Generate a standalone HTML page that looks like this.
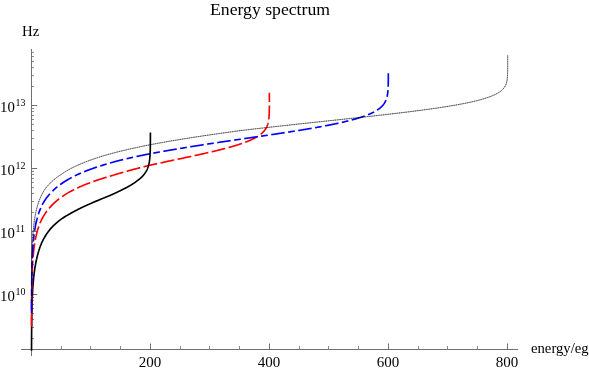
<!DOCTYPE html>
<html><head><meta charset="utf-8"><title>Energy spectrum</title><style>
html,body{margin:0;padding:0;background:#fff;}
body{width:589px;height:371px;position:relative;overflow:hidden;font-family:"Liberation Serif",serif;color:#000;}
.t{position:absolute;white-space:nowrap;line-height:1;will-change:transform;}
.t sup{line-height:0;position:relative;vertical-align:baseline;}
</style></head><body>
<svg width="589" height="371" viewBox="0 0 589 371" style="position:absolute;left:0;top:0">
<rect width="589" height="371" fill="#fff"/>
<g shape-rendering="crispEdges">
<line x1="21" y1="349.5" x2="518" y2="349.5" stroke="#707070" stroke-width="1"/>
<line x1="31.5" y1="49" x2="31.5" y2="356" stroke="#707070" stroke-width="1"/>
</g>
<g>
<line x1="61.5" y1="346" x2="61.5" y2="349" stroke="#8c8c8c" stroke-width="1"/>
<line x1="90.5" y1="346" x2="90.5" y2="349" stroke="#8c8c8c" stroke-width="1"/>
<line x1="120.5" y1="346" x2="120.5" y2="349" stroke="#8c8c8c" stroke-width="1"/>
<line x1="150.5" y1="343.5" x2="150.5" y2="349" stroke="#707070" stroke-width="1"/>
<line x1="180.5" y1="346" x2="180.5" y2="349" stroke="#8c8c8c" stroke-width="1"/>
<line x1="209.5" y1="346" x2="209.5" y2="349" stroke="#8c8c8c" stroke-width="1"/>
<line x1="239.5" y1="346" x2="239.5" y2="349" stroke="#8c8c8c" stroke-width="1"/>
<line x1="269.5" y1="343.5" x2="269.5" y2="349" stroke="#707070" stroke-width="1"/>
<line x1="299.5" y1="346" x2="299.5" y2="349" stroke="#8c8c8c" stroke-width="1"/>
<line x1="328.5" y1="346" x2="328.5" y2="349" stroke="#8c8c8c" stroke-width="1"/>
<line x1="358.5" y1="346" x2="358.5" y2="349" stroke="#8c8c8c" stroke-width="1"/>
<line x1="388.5" y1="343.5" x2="388.5" y2="349" stroke="#707070" stroke-width="1"/>
<line x1="418.5" y1="346" x2="418.5" y2="349" stroke="#8c8c8c" stroke-width="1"/>
<line x1="447.5" y1="346" x2="447.5" y2="349" stroke="#8c8c8c" stroke-width="1"/>
<line x1="477.5" y1="346" x2="477.5" y2="349" stroke="#8c8c8c" stroke-width="1"/>
<line x1="507.5" y1="343.5" x2="507.5" y2="349" stroke="#707070" stroke-width="1"/>
<line x1="32" y1="338.5" x2="34" y2="338.5" stroke="#8c8c8c" stroke-width="1"/>
<line x1="32" y1="327.5" x2="34" y2="327.5" stroke="#8c8c8c" stroke-width="1"/>
<line x1="32" y1="319.5" x2="34" y2="319.5" stroke="#8c8c8c" stroke-width="1"/>
<line x1="32" y1="313.5" x2="34" y2="313.5" stroke="#8c8c8c" stroke-width="1"/>
<line x1="32" y1="308.5" x2="34" y2="308.5" stroke="#8c8c8c" stroke-width="1"/>
<line x1="32" y1="304.5" x2="34" y2="304.5" stroke="#8c8c8c" stroke-width="1"/>
<line x1="32" y1="300.5" x2="34" y2="300.5" stroke="#8c8c8c" stroke-width="1"/>
<line x1="32" y1="297.5" x2="34" y2="297.5" stroke="#8c8c8c" stroke-width="1"/>
<line x1="32" y1="294.5" x2="37.2" y2="294.5" stroke="#707070" stroke-width="1"/>
<line x1="32" y1="275.5" x2="34" y2="275.5" stroke="#8c8c8c" stroke-width="1"/>
<line x1="32" y1="264.5" x2="34" y2="264.5" stroke="#8c8c8c" stroke-width="1"/>
<line x1="32" y1="256.5" x2="34" y2="256.5" stroke="#8c8c8c" stroke-width="1"/>
<line x1="32" y1="250.5" x2="34" y2="250.5" stroke="#8c8c8c" stroke-width="1"/>
<line x1="32" y1="245.5" x2="34" y2="245.5" stroke="#8c8c8c" stroke-width="1"/>
<line x1="32" y1="241.5" x2="34" y2="241.5" stroke="#8c8c8c" stroke-width="1"/>
<line x1="32" y1="237.5" x2="34" y2="237.5" stroke="#8c8c8c" stroke-width="1"/>
<line x1="32" y1="234.5" x2="34" y2="234.5" stroke="#8c8c8c" stroke-width="1"/>
<line x1="32" y1="231.5" x2="37.2" y2="231.5" stroke="#707070" stroke-width="1"/>
<line x1="32" y1="212.5" x2="34" y2="212.5" stroke="#8c8c8c" stroke-width="1"/>
<line x1="32" y1="201.5" x2="34" y2="201.5" stroke="#8c8c8c" stroke-width="1"/>
<line x1="32" y1="193.5" x2="34" y2="193.5" stroke="#8c8c8c" stroke-width="1"/>
<line x1="32" y1="187.5" x2="34" y2="187.5" stroke="#8c8c8c" stroke-width="1"/>
<line x1="32" y1="182.5" x2="34" y2="182.5" stroke="#8c8c8c" stroke-width="1"/>
<line x1="32" y1="178.5" x2="34" y2="178.5" stroke="#8c8c8c" stroke-width="1"/>
<line x1="32" y1="174.5" x2="34" y2="174.5" stroke="#8c8c8c" stroke-width="1"/>
<line x1="32" y1="171.5" x2="34" y2="171.5" stroke="#8c8c8c" stroke-width="1"/>
<line x1="32" y1="168.5" x2="37.2" y2="168.5" stroke="#707070" stroke-width="1"/>
<line x1="32" y1="149.5" x2="34" y2="149.5" stroke="#8c8c8c" stroke-width="1"/>
<line x1="32" y1="138.5" x2="34" y2="138.5" stroke="#8c8c8c" stroke-width="1"/>
<line x1="32" y1="130.5" x2="34" y2="130.5" stroke="#8c8c8c" stroke-width="1"/>
<line x1="32" y1="124.5" x2="34" y2="124.5" stroke="#8c8c8c" stroke-width="1"/>
<line x1="32" y1="119.5" x2="34" y2="119.5" stroke="#8c8c8c" stroke-width="1"/>
<line x1="32" y1="115.5" x2="34" y2="115.5" stroke="#8c8c8c" stroke-width="1"/>
<line x1="32" y1="111.5" x2="34" y2="111.5" stroke="#8c8c8c" stroke-width="1"/>
<line x1="32" y1="108.5" x2="34" y2="108.5" stroke="#8c8c8c" stroke-width="1"/>
<line x1="32" y1="105.5" x2="37.2" y2="105.5" stroke="#707070" stroke-width="1"/>
<line x1="32" y1="86.5" x2="34" y2="86.5" stroke="#8c8c8c" stroke-width="1"/>
<line x1="32" y1="75.5" x2="34" y2="75.5" stroke="#8c8c8c" stroke-width="1"/>
<line x1="32" y1="67.5" x2="34" y2="67.5" stroke="#8c8c8c" stroke-width="1"/>
<line x1="32" y1="61.5" x2="34" y2="61.5" stroke="#8c8c8c" stroke-width="1"/>
<line x1="32" y1="56.5" x2="34" y2="56.5" stroke="#8c8c8c" stroke-width="1"/>
<line x1="32" y1="52.5" x2="34" y2="52.5" stroke="#8c8c8c" stroke-width="1"/>
</g>
<path d="M31.52 350.70 L31.52 350.34 L31.52 350.08 L31.52 349.83 L31.52 349.58 L31.53 349.33 L31.53 349.08 L31.53 348.83 L31.53 348.57 L31.53 348.32 L31.53 348.07 L31.53 347.82 L31.53 347.57 L31.53 347.32 L31.53 347.07 L31.54 346.81 L31.54 346.56 L31.54 346.31 L31.54 346.06 L31.54 345.81 L31.54 345.56 L31.54 345.30 L31.54 345.05 L31.54 344.80 L31.54 344.55 L31.55 344.30 L31.55 344.05 L31.55 343.80 L31.55 343.54 L31.55 343.29 L31.55 343.04 L31.55 342.79 L31.55 342.54 L31.56 342.29 L31.56 342.03 L31.56 341.78 L31.56 341.53 L31.56 341.28 L31.56 341.03 L31.56 340.78 L31.56 340.53 L31.57 340.27 L31.57 340.02 L31.57 339.77 L31.57 339.52 L31.57 339.27 L31.57 339.02 L31.57 338.76 L31.58 338.51 L31.58 338.26 L31.58 338.01 L31.58 337.76 L31.58 337.51 L31.58 337.26 L31.59 337.00 L31.59 336.75 L31.59 336.50 L31.59 336.25 L31.59 336.00 L31.59 335.75 L31.60 335.49 L31.60 335.24 L31.60 334.99 L31.60 334.74 L31.60 334.49 L31.60 334.24 L31.61 333.99 L31.61 333.73 L31.61 333.48 L31.61 333.23 L31.61 332.98 L31.62 332.73 L31.62 332.48 L31.62 332.22 L31.62 331.97 L31.62 331.72 L31.63 331.47 L31.63 331.22 L31.63 330.97 L31.63 330.72 L31.63 330.46 L31.64 330.21 L31.64 329.96 L31.64 329.71 L31.64 329.46 L31.65 329.21 L31.65 328.95 L31.65 328.70 L31.65 328.45 L31.65 328.20 L31.66 327.95 L31.66 327.70 L31.66 327.45 L31.66 327.19 L31.67 326.94 L31.67 326.69 L31.67 326.44 L31.68 326.19 L31.68 325.94 L31.68 325.69 L31.68 325.43 L31.69 325.18 L31.69 324.93 L31.69 324.68 L31.69 324.43 L31.70 324.18 L31.70 323.92 L31.70 323.67 L31.71 323.42 L31.71 323.17 L31.71 322.92 L31.72 322.67 L31.72 322.42 L31.72 322.16 L31.73 321.91 L31.73 321.66 L31.73 321.41 L31.74 321.16 L31.74 320.91 L31.74 320.65 L31.75 320.40 L31.75 320.15 L31.75 319.90 L31.76 319.65 L31.76 319.40 L31.76 319.15 L31.77 318.89 L31.77 318.64 L31.77 318.39 L31.78 318.14 L31.78 317.89 L31.79 317.64 L31.79 317.38 L31.79 317.13 L31.80 316.88 L31.80 316.63 L31.81 316.38 L31.81 316.13 L31.82 315.88 L31.82 315.62 L31.82 315.37 L31.83 315.12 L31.83 314.87 L31.84 314.62 L31.84 314.37 L31.85 314.11 L31.85 313.86 L31.86 313.61 L31.86 313.36 L31.87 313.11 L31.87 312.86 L31.88 312.61 L31.88 312.35 L31.89 312.10 L31.89 311.85 L31.90 311.60 L31.90 311.35 L31.91 311.10 L31.91 310.84 L31.92 310.59 L31.92 310.34 L31.93 310.09 L31.94 309.84 L31.94 309.59 L31.95 309.34 L31.95 309.08 L31.96 308.83 L31.96 308.58 L31.97 308.33 L31.98 308.08 L31.98 307.83 L31.99 307.57 L32.00 307.32 L32.00 307.07 L32.01 306.82 L32.02 306.57 L32.02 306.32 L32.03 306.07 L32.04 305.81 L32.04 305.56 L32.05 305.31 L32.06 305.06 L32.06 304.81 L32.07 304.56 L32.08 304.30 L32.09 304.05 L32.09 303.80 L32.10 303.55 L32.11 303.30 L32.12 303.05 L32.13 302.80 L32.13 302.54 L32.14 302.29 L32.15 302.04 L32.16 301.79 L32.17 301.54 L32.18 301.29 L32.18 301.03 L32.19 300.78 L32.20 300.53 L32.21 300.28 L32.22 300.03 L32.23 299.78 L32.24 299.53 L32.25 299.27 L32.26 299.02 L32.27 298.77 L32.28 298.52 L32.29 298.27 L32.30 298.02 L32.31 297.76 L32.32 297.51 L32.33 297.26 L32.34 297.01 L32.35 296.76 L32.36 296.51 L32.37 296.26 L32.38 296.00 L32.39 295.75 L32.40 295.50 L32.41 295.25 L32.42 295.00 L32.44 294.75 L32.45 294.49 L32.46 294.24 L32.47 293.99 L32.48 293.74 L32.50 293.49 L32.51 293.24 L32.52 292.99 L32.53 292.73 L32.55 292.48 L32.56 292.23 L32.57 291.98 L32.59 291.73 L32.60 291.48 L32.61 291.22 L32.63 290.97 L32.64 290.72 L32.66 290.47 L32.67 290.22 L32.68 289.97 L32.70 289.72 L32.71 289.46 L32.73 289.21 L32.74 288.96 L32.76 288.71 L32.78 288.46 L32.79 288.21 L32.81 287.95 L32.82 287.70 L32.84 287.45 L32.86 287.20 L32.87 286.95 L32.89 286.70 L32.91 286.45 L32.92 286.19 L32.94 285.94 L32.96 285.69 L32.98 285.44 L33.00 285.19 L33.01 284.94 L33.03 284.68 L33.05 284.43 L33.07 284.18 L33.09 283.93 L33.11 283.68 L33.13 283.43 L33.15 283.18 L33.17 282.92 L33.19 282.67 L33.21 282.42 L33.23 282.17 L33.25 281.92 L33.27 281.67 L33.30 281.41 L33.32 281.16 L33.34 280.91 L33.36 280.66 L33.39 280.41 L33.41 280.16 L33.43 279.91 L33.46 279.65 L33.48 279.40 L33.50 279.15 L33.53 278.90 L33.55 278.65 L33.58 278.40 L33.60 278.14 L33.63 277.89 L33.65 277.64 L33.68 277.39 L33.71 277.14 L33.73 276.89 L33.76 276.64 L33.79 276.38 L33.82 276.13 L33.84 275.88 L33.87 275.63 L33.90 275.38 L33.93 275.13 L33.96 274.87 L33.99 274.62 L34.02 274.37 L34.05 274.12 L34.08 273.87 L34.11 273.62 L34.14 273.37 L34.18 273.11 L34.21 272.86 L34.24 272.61 L34.28 272.36 L34.31 272.11 L34.34 271.86 L34.38 271.60 L34.41 271.35 L34.45 271.10 L34.48 270.85 L34.52 270.60 L34.56 270.35 L34.59 270.10 L34.63 269.84 L34.67 269.59 L34.71 269.34 L34.74 269.09 L34.78 268.84 L34.82 268.59 L34.86 268.34 L34.90 268.08 L34.94 267.83 L34.99 267.58 L35.03 267.33 L35.07 267.08 L35.11 266.83 L35.16 266.57 L35.20 266.32 L35.25 266.06 L35.29 265.80 L35.34 265.54 L35.38 265.28 L35.43 265.01 L35.48 264.75 L35.53 264.48 L35.57 264.21 L35.62 263.94 L35.67 263.68 L35.72 263.41 L35.77 263.14 L35.82 262.87 L35.88 262.59 L35.93 262.32 L35.98 262.05 L36.04 261.78 L36.09 261.51 L36.15 261.24 L36.20 260.97 L36.26 260.69" fill="none" stroke="#000" stroke-width="1.65"/>
<path d="M31.50 326.70 L31.50 326.43 L31.50 326.09 L31.50 325.74 L31.50 325.39 L31.50 325.04 L31.50 324.70 L31.50 324.35 L31.50 324.00 L31.50 323.65 L31.51 323.31 L31.51 322.96 L31.51 322.61 L31.51 322.26 L31.51 321.92 L31.51 321.57 L31.51 321.22 L31.51 320.87 L31.51 320.53 L31.51 320.18 L31.52 319.83 L31.52 319.49 L31.52 319.14 L31.52 318.79 L31.52 318.44 L31.52 318.10 L31.52 317.75 L31.52 317.40 L31.53 317.05 L31.53 316.71 L31.53 316.36 L31.53 316.01 L31.53 315.66 L31.53 315.32 L31.53 314.97 L31.54 314.62 L31.54 314.27 L31.54 313.93 L31.54 313.58 L31.54 313.23 L31.54 312.89 L31.55 312.54 L31.55 312.19 L31.55 311.84 L31.55 311.50 L31.55 311.15 L31.55 310.80 L31.56 310.45 L31.56 310.11 L31.56 309.76 L31.56 309.41 L31.56 309.06 L31.57 308.72 L31.57 308.37 L31.57 308.02 L31.57 307.67 L31.57 307.33 L31.58 306.98 L31.58 306.63 L31.58 306.29 L31.58 305.94 L31.59 305.59 L31.59 305.24 L31.59 304.90 L31.59 304.55 L31.60 304.20 L31.60 303.85 L31.60 303.51 L31.60 303.16 L31.61 302.81 L31.61 302.46 L31.61 302.12 L31.62 301.77 L31.62 301.42 L31.62 301.07 L31.62 300.73 L31.63 300.38 L31.63 300.03 L31.63 299.69 L31.64 299.34 L31.64 298.99 L31.64 298.64 L31.65 298.30 L31.65 297.95 L31.66 297.60 L31.66 297.25 L31.66 296.91 L31.67 296.56 L31.67 296.21 L31.67 295.86 L31.68 295.52 L31.68 295.17 L31.69 294.82 L31.69 294.47 L31.69 294.13 L31.70 293.78 L31.70 293.43 L31.71 293.09 L31.71 292.74 L31.72 292.39 L31.72 292.04 L31.73 291.70 L31.73 291.35 L31.74 291.00 L31.74 290.65 L31.75 290.31 L31.75 289.96 L31.76 289.61 L31.76 289.26 L31.77 288.92 L31.78 288.57 L31.78 288.22 L31.79 287.87 L31.79 287.53 L31.80 287.18 L31.81 286.83 L31.81 286.49 L31.82 286.14 L31.82 285.79 L31.83 285.44 L31.84 285.10 L31.85 284.75 L31.85 284.40 L31.86 284.05 L31.87 283.71 L31.87 283.36 L31.88 283.01 L31.89 282.66 L31.90 282.32 L31.91 281.97 L31.91 281.62 L31.92 281.28 L31.93 280.93 L31.94 280.58 L31.95 280.23 L31.96 279.89 L31.97 279.54 L31.97 279.19 L31.98 278.84 L31.99 278.50 L32.00 278.15 L32.01 277.80 L32.02 277.45 L32.03 277.11 L32.04 276.76 L32.05 276.41 L32.07 276.06 L32.08 275.72 L32.09 275.37 L32.10 275.02 L32.11 274.68 L32.12 274.33 L32.13 273.98 L32.15 273.63 L32.16 273.29 L32.17 272.94 L32.19 272.59 L32.20 272.24 L32.21 271.90 L32.23 271.55 L32.24 271.20 L32.25 270.85 L32.27 270.51 L32.28 270.16 L32.30 269.81 L32.31 269.46 L32.33 269.12 L32.34 268.77 L32.36 268.42 L32.38 268.08 L32.39 267.73 L32.41 267.38 L32.43 267.03 L32.44 266.69 L32.46 266.34 L32.48 265.99 L32.50 265.64 L32.52 265.30 L32.54 264.95 L32.56 264.60 L32.58 264.25 L32.60 263.91 L32.62 263.56 L32.64 263.21 L32.66 262.86 L32.68 262.52 L32.70 262.17 L32.72 261.82 L32.75 261.48 L32.77 261.13 L32.79 260.78 L32.82 260.43 L32.84 260.09 L32.87 259.74 L32.89 259.39 L32.92 259.04 L32.94 258.70 L32.97 258.35 L33.00 258.00 L33.03 257.65 L33.05 257.31 L33.08 256.96 L33.11 256.61 L33.14 256.26 L33.17 255.92 L33.20 255.57 L33.23 255.22 L33.27 254.88 L33.30 254.53 L33.33 254.18 L33.37 253.83 L33.40 253.49 L33.43 253.14 L33.47 252.79 L33.51 252.44 L33.54 252.10 L33.58 251.75 L33.62 251.40 L33.66 251.05 L33.70 250.71 L33.74 250.36 L33.78 250.01 L33.82 249.66 L33.86 249.32 L33.91 248.97 L33.95 248.62 L33.99 248.27 L34.04 247.92 L34.09 247.57 L34.13 247.21 L34.18 246.86 L34.23 246.51 L34.28 246.15 L34.33 245.79 L34.38 245.44 L34.43 245.08 L34.49 244.72 L34.54 244.36 L34.60 244.00 L34.65 243.64 L34.71 243.28 L34.77 242.92 L34.83 242.56 L34.89 242.20 L34.95 241.83 L35.01 241.47 L35.08 241.11 L35.14 240.75 L35.21 240.38 L35.28 240.02 L35.34 239.66 L35.41 239.30 L35.48 238.93 L35.56 238.57 L35.63 238.20 L35.70 237.84 L35.78 237.47 L35.86 237.11 L35.94 236.74 L35.99 236.50 L36.04 236.25 L36.10 236.01 L36.15 235.76 L36.21 235.52 L36.27 235.27 L36.32 235.03 L36.38 234.78 L36.44 234.54 L36.50 234.29 L36.56 234.05 L36.62 233.80 L36.68 233.55 L36.74 233.31 L36.81 233.06 L36.87 232.82 L36.94 232.57 L37.00 232.32 L37.07 232.08 L37.13 231.83 L37.20 231.58 L37.27 231.34 L37.34 231.09 L37.41 230.85 L37.48 230.60 L37.55 230.35 L37.62 230.10 L37.70 229.86 L37.77 229.61 L37.85 229.36 L37.92 229.12 L38.00 228.87 L38.08 228.62 L38.16 228.38 L38.24 228.13 L38.32 227.88 L38.40 227.63 L38.48 227.39 L38.56 227.14 L38.65 226.89 L38.73 226.65 L38.82 226.40 L38.91 226.15 L39.00 225.90 L39.09 225.66 L39.18 225.41 L39.27 225.16 L39.36 224.92 L39.46 224.67 L39.55 224.42 L39.65 224.17 L39.75 223.93 L39.84 223.68 L39.94 223.43 L40.05 223.19 L40.15 222.94 L40.25 222.69 L40.36 222.45 L40.46 222.20 L40.57 221.95 L40.68 221.71 L40.79 221.46 L40.90 221.21 L41.01 220.97 L41.12 220.72 L41.24 220.47 L41.35 220.23 L41.47 219.98 L41.59 219.73 L41.71 219.49 L41.83 219.24 L41.96 219.00 L42.08 218.75 L42.21 218.51 L42.34 218.26 L42.46 218.01 L42.60 217.77 L42.73 217.52 L42.86 217.28 L43.00 217.03 L43.13 216.79 L43.27 216.54 L43.41 216.30 L43.56 216.05 L43.70 215.81 L43.84 215.56 L43.99 215.32 L44.14 215.07 L44.29 214.83 L44.44 214.59 L44.60 214.34 L44.75 214.10 L44.91 213.85 L45.07 213.61 L45.23 213.37 L45.40 213.12 L45.56 212.88 L45.73 212.64 L45.90 212.40 L46.07 212.15 L46.24 211.91 L46.42 211.67 L46.60 211.43 L46.78 211.18 L46.96 210.94 L47.14 210.70 L47.33 210.46 L47.52 210.22 L47.71 209.97 L47.90 209.73 L48.10 209.49 L48.29 209.25 L48.49 209.01 L48.69 208.77 L48.90 208.53 L49.11 208.29 L49.32 208.05 L49.53 207.81 L49.74 207.57 L49.96 207.33 L50.18 207.08 L50.40 206.83 L50.62 206.58 L50.85 206.33 L51.08 206.08 L51.31 205.83 L51.55 205.58 L51.79 205.33 L52.03 205.08 L52.27 204.83 L52.52 204.58 L52.76 204.33 L53.02 204.08 L53.27 203.83 L53.53 203.58 L53.79 203.33 L54.06 203.08 L54.32 202.83 L54.59 202.58 L54.87 202.33 L55.14 202.08 L55.42 201.83 L55.71 201.58 L55.99 201.34 L56.28 201.09 L56.58 200.84 L56.87 200.59 L57.17 200.34 L57.48 200.09 L57.78 199.84 L58.09 199.59 L58.41 199.34 L58.73 199.09 L59.05 198.85 L59.37 198.60 L59.70 198.35 L60.03 198.10 L60.37 197.85 L60.71 197.60 L61.06 197.35 L61.40 197.11 L61.76 196.86 L62.11 196.61 L62.47 196.36 L62.84 196.11 L63.21 195.86 L63.58 195.62 L63.96 195.37 L64.34 195.12 L64.73 194.87 L65.12 194.62 L65.51 194.38 L65.91 194.13 L66.31 193.88 L66.72 193.63 L67.14 193.38 L67.55 193.14 L67.98 192.89 L68.40 192.64 L68.84 192.39 L69.05 192.27 L69.27 192.14 L69.49 192.02 L69.72 191.90 L69.94 191.77 L70.16 191.65 L70.39 191.53 L70.62 191.40 L70.84 191.28 L71.07 191.15 L71.30 191.03 L71.53 190.91 L71.77 190.78 L72.00 190.66 L72.24 190.54 L72.48 190.41 L72.71 190.29 L72.95 190.16 L73.19 190.04 L73.44 189.92 L73.68 189.79 L73.93 189.67 L74.17 189.55 L74.42 189.42 L74.67 189.30 L74.92 189.17 L75.17 189.05 L75.42 188.93 L75.68 188.80 L75.94 188.68 L76.19 188.56 L76.45 188.43 L76.71 188.31 L76.97 188.18 L77.24 188.06 L77.50 187.94 L77.77 187.81 L78.04 187.69 L78.30 187.57 L78.58 187.44 L78.85 187.32 L79.12 187.19 L79.40 187.07 L79.67 186.95 L79.95 186.82 L80.23 186.70 L80.51 186.58 L80.79 186.45 L81.08 186.33 L81.36 186.20 L81.65 186.08 L81.94 185.96 L82.23 185.83 L82.52 185.71 L82.81 185.59 L83.11 185.46 L83.41 185.34 L83.70 185.21 L84.00 185.09 L84.30 184.97 L84.61 184.84 L84.91 184.72 L85.22 184.60 L85.53 184.47 L85.83 184.35 L86.15 184.22 L86.46 184.10 L86.77 183.98 L87.09 183.85 L87.41 183.73 L87.73 183.60 L88.05 183.48 L88.37 183.36 L88.69 183.23 L89.02 183.11 L89.35 182.99 L89.68 182.86 L90.01 182.74 L90.34 182.61 L90.68 182.49 L91.01 182.37 L91.35 182.24 L91.69 182.12 L92.03 181.99 L92.38 181.87 L92.72 181.75 L93.07 181.62 L93.42 181.50 L93.77 181.37 L94.12 181.25 L94.47 181.13 L94.83 181.00 L95.19 180.88 L95.55 180.75 L95.91 180.63 L96.27 180.50 L96.63 180.38 L97.00 180.26 L97.37 180.13 L97.74 180.01 L98.11 179.88 L98.49 179.76 L98.86 179.63 L99.24 179.51 L99.62 179.39 L100.00 179.26 L100.38 179.14 L100.77 179.01 L101.16 178.89 L101.55 178.76 L101.94 178.64 L102.33 178.52 L102.72 178.39 L103.12 178.27 L103.52 178.14 L103.92 178.02 L104.32 177.89 L104.73 177.77 L105.13 177.64 L105.54 177.52 L105.95 177.39 L106.36 177.27 L106.78 177.14 L107.19 177.02 L107.61 176.90 L108.03 176.77 L108.45 176.65 L108.88 176.52 L109.30 176.40 L109.73 176.27 L110.16 176.14 L110.59 176.01 L111.02 175.87 L111.46 175.74 L111.90 175.60 L112.34 175.46 L112.78 175.33 L113.22 175.19 L113.67 175.06 L114.11 174.92 L114.56 174.78 L115.02 174.65 L115.47 174.51 L115.92 174.38 L116.38 174.24 L116.84 174.10 L117.30 173.97 L117.77 173.83 L118.23 173.69 L118.70 173.56 L119.17 173.42 L119.64 173.28 L120.11 173.14 L120.59 173.01 L121.06 172.87 L121.54 172.73 L122.02 172.60 L122.51 172.46 L122.99 172.32 L123.48 172.18 L123.97 172.04 L124.46 171.91 L124.95 171.77 L125.45 171.63 L125.94 171.49 L126.44 171.35 L126.94 171.22 L127.45 171.08 L127.95 170.94 L128.46 170.80 L128.97 170.66 L129.48 170.52 L129.99 170.38 L130.50 170.25 L131.02 170.11 L131.54 169.97 L132.06 169.83 L132.58 169.69 L133.11 169.55 L133.63 169.41 L134.16 169.27 L134.69 169.13 L135.22 168.99 L135.75 168.85 L136.29 168.71 L136.83 168.57 L137.36 168.43 L137.91 168.29 L138.45 168.15 L138.99 168.01 L139.54 167.87 L140.09 167.73 L140.64 167.59 L141.19 167.45 L141.74 167.30 L142.30 167.16 L142.85 167.02 L143.41 166.88 L143.97 166.74 L144.53 166.60 L145.10 166.46 L145.66 166.32 L146.23 166.17 L146.80 166.03 L147.37 165.89 L147.94 165.75 L148.51 165.61 L149.09 165.46 L149.67 165.32 L150.24 165.18 L150.82 165.05 L151.41 164.92 L151.99 164.79 L152.57 164.66 L153.16 164.53 L153.75 164.40 L154.33 164.27 L154.92 164.14 L155.52 164.01 L156.11 163.88 L156.70 163.75 L157.30 163.62 L157.90 163.49 L158.49 163.36 L159.09 163.23 L159.70 163.10 L160.30 162.97 L160.90 162.84 L161.51 162.71 L162.11 162.58 L162.72 162.45 L163.33 162.32 L163.93 162.18 L164.55 162.05 L165.16 161.92 L165.77 161.79 L166.38 161.66 L167.00 161.53 L167.61 161.40 L168.23 161.26 L168.84 161.13 L169.46 161.00 L170.08 160.87 L170.70 160.74 L171.32 160.60 L171.94 160.47 L172.56 160.34 L173.19 160.21 L173.81 160.07 L174.43 159.94 L175.06 159.81 L175.68 159.68 L176.31 159.54 L176.94 159.41 L177.56 159.28 L178.19 159.14 L178.82 159.01 L179.44 158.88 L180.07 158.74 L180.70 158.61 L181.33 158.48 L181.96 158.34 L182.59 158.21 L183.22 158.08 L183.85 157.94 L184.48 157.81 L185.11 157.67 L185.74 157.54 L186.37 157.40 L187.00 157.27 L187.63 157.13 L188.26 157.00 L188.88 156.87 L189.51 156.73 L190.14 156.60 L190.77 156.46 L191.40 156.32 L192.03 156.19 L192.66 156.05 L193.28 155.92 L193.91 155.78 L194.54 155.65 L195.16 155.51 L195.79 155.37 L196.41 155.24 L197.03 155.10 L197.66 154.97 L198.28 154.83 L198.90 154.69 L199.52 154.56 L200.14 154.42 L200.76 154.28 L201.38 154.15 L201.99 154.01 L202.61 153.87 L203.22 153.73 L203.84 153.60 L204.45 153.46 L205.06 153.32 L205.67 153.18 L206.28 153.04 L206.89 152.91 L207.49 152.77 L208.10 152.63 L208.70 152.49 L209.30 152.35 L209.90 152.21 L210.50 152.07 L211.09 151.94 L211.69 151.80 L212.28 151.66 L212.87 151.52 L213.46 151.38 L214.05 151.24 L214.63 151.10 L215.22 150.96 L215.80 150.82 L216.38 150.68 L216.95 150.54 L217.53 150.40 L218.10 150.26 L218.67 150.12 L219.24 149.98 L219.81 149.83 L220.37 149.69 L220.93 149.55 L221.49 149.41 L222.05 149.27 L222.60 149.13 L223.15 148.99 L223.70 148.84 L224.25 148.70 L224.79 148.56 L225.33 148.42 L225.87 148.27 L226.40 148.13 L226.94 147.99 L227.47 147.85 L227.99 147.70 L228.52 147.56 L229.04 147.42 L229.55 147.27 L230.07 147.13 L230.58 146.98 L231.09 146.84 L231.59 146.70 L232.10 146.55 L232.60 146.41 L233.09 146.26 L233.58 146.12 L234.07 145.97 L234.56 145.83 L235.04 145.68 L235.52 145.54 L236.00 145.39 L236.47 145.25 L236.94 145.10 L237.40 144.95 L237.87 144.81 L238.33 144.66 L238.78 144.51 L239.23 144.37 L239.68 144.22 L240.12 144.07 L240.56 143.93 L241.00 143.78 L241.43 143.63 L241.86 143.48 L242.29 143.33 L242.71 143.19 L243.13 143.04 L243.54 142.89 L243.96 142.74 L244.36 142.59 L244.77 142.44 L245.16 142.29 L245.56 142.14 L245.95 142.00 L246.34 141.85 L246.72 141.70 L247.10 141.55 L247.48 141.40 L247.85 141.24 L248.22 141.09 L248.59 140.94 L248.95 140.79 L249.30 140.64 L249.66 140.49 L250.00 140.34 L250.35 140.19 L250.69 140.03 L251.03 139.88 L251.36 139.73 L251.69 139.58 L252.02 139.42 L252.34 139.27 L252.66 139.12 L252.97 138.97 L253.28 138.81 L253.59 138.66 L253.89 138.50 L254.19 138.35 L254.48 138.20 L254.77 138.04 L255.06 137.89 L255.34 137.73 L255.62 137.58 L255.90 137.42 L256.17 137.27 L256.44 137.11 L256.70 136.95 L256.96 136.80 L257.22 136.64 L257.47 136.49 L257.72 136.33 L257.97 136.17 L258.21 136.01 L258.45 135.86 L258.68 135.70 L258.91 135.54 L259.14 135.38 L259.37 135.23 L259.59 135.07 L259.80 134.91 L260.02 134.75 L260.23 134.59 L260.43 134.43 L260.64 134.27 L260.84 134.11 L261.03 133.95 L261.23 133.79 L261.60 133.47 L261.97 133.15 L262.32 132.83 L262.66 132.50 L262.98 132.18 L263.30 131.85 L263.60 131.52 L263.89 131.20 L264.17 130.87 L264.44 130.54 L264.70 130.21 L264.94 129.88 L265.18 129.54 L265.41 129.21 L265.63 128.88 L265.83 128.54 L266.03 128.20 L266.22 127.87 L266.40 127.53 L266.58 127.19 L266.74 126.85 L266.90 126.51 L267.05 126.16 L267.19 125.82 L267.32 125.48 L267.45 125.13 L267.57 124.78 L267.69 124.43 L267.80 124.08 L267.90 123.73 L268.00 123.38 L268.09 123.03 L268.17 122.68 L268.26 122.32 L268.33 121.97 L268.41 121.61 L268.47 121.25 L268.54 120.89 L268.60 120.53 L268.66 120.17 L268.71 119.80 L268.76 119.44 L268.81 119.07 L268.85 118.71 L268.89 118.34 L268.93 117.97 L268.96 117.60 L269.00 117.23 L269.03 116.85 L269.05 116.48 L269.08 116.10 L269.10 115.73 L269.13 115.35 L269.15 114.97 L269.17 114.59 L269.19 114.21 L269.20 113.82 L269.22 113.44 L269.23 113.05 L269.24 112.66 L269.26 112.27 L269.27 111.88 L269.28 111.49 L269.29 111.10 L269.29 110.70 L269.30 110.31 L269.31 109.91 L269.31 109.51 L269.32 109.11 L269.33 108.71 L269.33 108.30 L269.33 107.90 L269.34 107.49 L269.34 107.08 L269.34 106.68 L269.35 106.26 L269.35 105.85 L269.35 105.44 L269.35 105.02 L269.36 104.61 L269.36 104.19 L269.36 103.77 L269.36 103.35 L269.36 102.92 L269.36 102.50 L269.36 102.07 L269.36 101.64 L269.37 101.21 L269.37 100.78 L269.37 100.35 L269.37 99.91 L269.37 99.48 L269.37 99.04 L269.37 98.60 L269.37 98.16 L269.37 97.71 L269.37 97.27 L269.37 96.82 L269.37 96.37 L269.37 95.92 L269.37 95.47 L269.37 95.02 L269.37 94.56 L269.37 94.11 L269.37 93.65 L269.37 93.19 L269.37 92.73 L269.37 92.70" fill="none" stroke="#f00" stroke-width="1.65" stroke-dasharray="14 3.45" stroke-dashoffset="0.3"/>
<path d="M31.52 312.70 L31.52 312.36 L31.52 311.99 L31.52 311.62 L31.52 311.24 L31.52 310.87 L31.52 310.49 L31.52 310.12 L31.53 309.74 L31.53 309.37 L31.53 309.00 L31.53 308.62 L31.53 308.25 L31.53 307.87 L31.53 307.50 L31.54 307.13 L31.54 306.75 L31.54 306.38 L31.54 306.00 L31.54 305.63 L31.54 305.26 L31.54 304.88 L31.55 304.51 L31.55 304.13 L31.55 303.76 L31.55 303.39 L31.55 303.01 L31.56 302.64 L31.56 302.26 L31.56 301.89 L31.56 301.52 L31.56 301.14 L31.57 300.77 L31.57 300.39 L31.57 300.02 L31.57 299.65 L31.57 299.27 L31.58 298.90 L31.58 298.52 L31.58 298.15 L31.58 297.77 L31.59 297.40 L31.59 297.03 L31.59 296.65 L31.59 296.28 L31.60 295.90 L31.60 295.53 L31.60 295.16 L31.60 294.78 L31.61 294.41 L31.61 294.03 L31.61 293.66 L31.61 293.29 L31.62 292.91 L31.62 292.54 L31.62 292.16 L31.63 291.79 L31.63 291.42 L31.63 291.04 L31.64 290.67 L31.64 290.29 L31.64 289.92 L31.65 289.55 L31.65 289.17 L31.65 288.80 L31.66 288.42 L31.66 288.05 L31.66 287.68 L31.67 287.30 L31.67 286.93 L31.68 286.55 L31.68 286.18 L31.68 285.80 L31.69 285.43 L31.69 285.06 L31.70 284.68 L31.70 284.31 L31.71 283.93 L31.71 283.56 L31.72 283.19 L31.72 282.81 L31.72 282.44 L31.73 282.06 L31.73 281.69 L31.74 281.32 L31.75 280.94 L31.75 280.57 L31.76 280.19 L31.76 279.82 L31.77 279.45 L31.77 279.07 L31.78 278.70 L31.78 278.32 L31.79 277.95 L31.80 277.58 L31.80 277.20 L31.81 276.83 L31.82 276.45 L31.82 276.08 L31.83 275.71 L31.83 275.33 L31.84 274.96 L31.85 274.58 L31.86 274.21 L31.86 273.84 L31.87 273.46 L31.88 273.09 L31.89 272.71 L31.89 272.34 L31.90 271.96 L31.91 271.59 L31.92 271.22 L31.93 270.84 L31.93 270.47 L31.94 270.09 L31.95 269.72 L31.96 269.35 L31.97 268.97 L31.98 268.60 L31.99 268.22 L32.00 267.85 L32.01 267.48 L32.02 267.10 L32.03 266.73 L32.04 266.35 L32.05 265.98 L32.06 265.61 L32.07 265.23 L32.08 264.86 L32.09 264.48 L32.11 264.11 L32.12 263.74 L32.13 263.36 L32.14 262.99 L32.15 262.61 L32.17 262.24 L32.18 261.87 L32.19 261.49 L32.21 261.12 L32.22 260.74 L32.23 260.37 L32.25 259.99 L32.26 259.62 L32.28 259.25 L32.29 258.87 L32.31 258.50 L32.32 258.12 L32.34 257.75 L32.35 257.38 L32.37 257.00 L32.38 256.63 L32.40 256.25 L32.42 255.88 L32.44 255.51 L32.45 255.13 L32.47 254.76 L32.49 254.38 L32.51 254.01 L32.53 253.64 L32.55 253.26 L32.57 252.89 L32.59 252.51 L32.61 252.14 L32.63 251.77 L32.65 251.39 L32.67 251.02 L32.69 250.64 L32.71 250.27 L32.74 249.90 L32.76 249.52 L32.78 249.15 L32.81 248.77 L32.83 248.40 L32.86 248.03 L32.88 247.65 L32.91 247.28 L32.93 246.90 L32.96 246.53 L32.98 246.28 L32.99 246.03 L33.01 245.78 L33.03 245.53 L33.05 245.28 L33.07 245.03 L33.09 244.78 L33.11 244.53 L33.13 244.28 L33.15 244.04 L33.17 243.79 L33.19 243.54 L33.21 243.29 L33.23 243.04 L33.25 242.79 L33.27 242.54 L33.29 242.29 L33.32 242.04 L33.34 241.79 L33.36 241.54 L33.38 241.29 L33.41 241.04 L33.43 240.79 L33.45 240.54 L33.48 240.29 L33.50 240.05 L33.53 239.80 L33.55 239.55 L33.58 239.30 L33.60 239.05 L33.63 238.80 L33.65 238.55 L33.68 238.30 L33.70 238.05 L33.73 237.80 L33.76 237.55 L33.79 237.30 L33.81 237.05 L33.84 236.80 L33.87 236.55 L33.90 236.30 L33.93 236.06 L33.96 235.81 L33.99 235.56 L34.02 235.31 L34.05 235.06 L34.08 234.81 L34.11 234.56 L34.14 234.31 L34.17 234.06 L34.21 233.81 L34.24 233.56 L34.27 233.31 L34.31 233.06 L34.34 232.81 L34.37 232.56 L34.41 232.31 L34.44 232.07 L34.48 231.82 L34.52 231.57 L34.55 231.32 L34.59 231.07 L34.63 230.82 L34.66 230.57 L34.70 230.32 L34.74 230.07 L34.78 229.82 L34.82 229.57 L34.86 229.32 L34.90 229.07 L34.94 228.82 L34.98 228.57 L35.03 228.32 L35.07 228.08 L35.11 227.83 L35.15 227.58 L35.20 227.33 L35.24 227.08 L35.29 226.83 L35.33 226.57 L35.38 226.32 L35.43 226.07 L35.47 225.82 L35.52 225.57 L35.57 225.32 L35.62 225.07 L35.67 224.82 L35.72 224.57 L35.77 224.31 L35.82 224.06 L35.87 223.81 L35.93 223.56 L35.98 223.31 L36.03 223.05 L36.09 222.80 L36.14 222.55 L36.20 222.30 L36.26 222.05 L36.31 221.79 L36.37 221.54 L36.43 221.29 L36.49 221.03 L36.55 220.78 L36.61 220.53 L36.67 220.27 L36.73 220.02 L36.80 219.77 L36.86 219.52 L36.92 219.26 L36.99 219.01 L37.05 218.76 L37.12 218.50 L37.19 218.25 L37.26 217.99 L37.33 217.74 L37.40 217.49 L37.47 217.23 L37.54 216.98 L37.61 216.73 L37.68 216.47 L37.76 216.22 L37.83 215.96 L37.91 215.71 L37.98 215.46 L38.06 215.20 L38.14 214.95 L38.22 214.69 L38.30 214.44 L38.38 214.19 L38.47 213.93 L38.55 213.68 L38.63 213.42 L38.72 213.17 L38.80 212.92 L38.89 212.66 L38.98 212.41 L39.07 212.16 L39.16 211.90 L39.25 211.65 L39.35 211.39 L39.44 211.14 L39.53 210.89 L39.63 210.63 L39.73 210.38 L39.83 210.12 L39.93 209.87 L40.03 209.62 L40.13 209.37 L40.23 209.12 L40.34 208.87 L40.44 208.62 L40.55 208.38 L40.66 208.13 L40.77 207.88 L40.88 207.63 L40.99 207.38 L41.10 207.14 L41.22 206.89 L41.33 206.64 L41.45 206.39 L41.57 206.15 L41.69 205.90 L41.81 205.65 L41.93 205.41 L42.06 205.16 L42.19 204.91 L42.31 204.67 L42.44 204.42 L42.57 204.17 L42.70 203.93 L42.84 203.68 L42.97 203.44 L43.11 203.19 L43.25 202.95 L43.39 202.70 L43.53 202.46 L43.68 202.21 L43.82 201.97 L43.97 201.72 L44.12 201.48 L44.27 201.23 L44.42 200.99 L44.57 200.75 L44.73 200.50 L44.89 200.26 L45.05 200.01 L45.21 199.77 L45.37 199.53 L45.54 199.29 L45.70 199.04 L45.87 198.80 L46.05 198.56 L46.22 198.32 L46.39 198.07 L46.57 197.83 L46.75 197.59 L46.93 197.35 L47.12 197.11 L47.30 196.87 L47.49 196.63 L47.68 196.39 L47.87 196.15 L48.07 195.90 L48.27 195.67 L48.47 195.43 L48.67 195.19 L48.87 194.95 L49.08 194.71 L49.29 194.47 L49.50 194.23 L49.72 193.99 L49.93 193.75 L50.15 193.51 L50.37 193.26 L50.60 193.02 L50.83 192.77 L51.06 192.52 L51.29 192.28 L51.52 192.03 L51.76 191.78 L52.00 191.54 L52.25 191.29 L52.49 191.05 L52.74 190.80 L53.00 190.56 L53.25 190.31 L53.51 190.07 L53.77 189.82 L54.04 189.58 L54.31 189.33 L54.58 189.09 L54.85 188.84 L55.13 188.60 L55.41 188.35 L55.69 188.11 L55.98 187.87 L56.27 187.62 L56.57 187.38 L56.86 187.13 L57.17 186.89 L57.47 186.65 L57.78 186.40 L58.09 186.16 L58.41 185.92 L58.73 185.67 L59.05 185.43 L59.38 185.19 L59.71 184.95 L60.04 184.70 L60.38 184.45 L60.72 184.20 L61.07 183.96 L61.42 183.71 L61.77 183.46 L62.13 183.21 L62.50 182.96 L62.86 182.71 L63.23 182.46 L63.61 182.21 L63.99 181.96 L64.38 181.71 L64.77 181.47 L65.16 181.22 L65.56 180.97 L65.96 180.72 L66.37 180.47 L66.78 180.22 L67.20 179.97 L67.62 179.72 L68.05 179.48 L68.48 179.23 L68.70 179.10 L68.92 178.98 L69.14 178.85 L69.36 178.73 L69.58 178.61 L69.81 178.48 L70.03 178.36 L70.26 178.23 L70.49 178.11 L70.72 177.98 L70.95 177.86 L71.18 177.73 L71.42 177.61 L71.65 177.49 L71.89 177.36 L72.12 177.24 L72.36 177.11 L72.60 176.99 L72.85 176.86 L73.09 176.74 L73.33 176.61 L73.58 176.49 L73.83 176.37 L74.08 176.24 L74.33 176.12 L74.58 175.99 L74.83 175.87 L75.09 175.74 L75.34 175.62 L75.60 175.49 L75.86 175.37 L76.12 175.25 L76.38 175.12 L76.64 175.00 L76.91 174.87 L77.18 174.75 L77.44 174.62 L77.71 174.50 L77.99 174.37 L78.26 174.25 L78.53 174.12 L78.81 174.00 L79.09 173.88 L79.36 173.75 L79.65 173.63 L79.93 173.50 L80.21 173.38 L80.50 173.25 L80.78 173.13 L81.07 173.00 L81.36 172.88 L81.66 172.75 L81.95 172.63 L82.24 172.50 L82.54 172.38 L82.84 172.25 L83.14 172.13 L83.44 172.00 L83.75 171.88 L84.05 171.76 L84.36 171.63 L84.67 171.51 L84.98 171.38 L85.29 171.26 L85.61 171.13 L85.92 171.01 L86.24 170.88 L86.56 170.76 L86.88 170.63 L87.20 170.51 L87.53 170.38 L87.86 170.26 L88.19 170.13 L88.52 170.00 L88.85 169.88 L89.18 169.75 L89.52 169.63 L89.86 169.50 L90.20 169.38 L90.54 169.25 L90.88 169.13 L91.23 169.00 L91.58 168.88 L91.93 168.75 L92.28 168.63 L92.63 168.50 L92.99 168.38 L93.35 168.25 L93.70 168.12 L94.07 168.00 L94.43 167.87 L94.80 167.75 L95.16 167.62 L95.53 167.50 L95.90 167.37 L96.28 167.24 L96.65 167.12 L97.03 166.99 L97.41 166.87 L97.79 166.74 L98.18 166.61 L98.56 166.49 L98.95 166.36 L99.34 166.24 L99.74 166.11 L100.13 165.98 L100.53 165.86 L100.93 165.73 L101.33 165.61 L101.73 165.48 L102.14 165.35 L102.55 165.23 L102.96 165.10 L103.37 164.97 L103.78 164.85 L104.20 164.72 L104.62 164.59 L105.04 164.47 L105.46 164.34 L105.89 164.21 L106.32 164.09 L106.75 163.96 L107.18 163.83 L107.62 163.71 L108.06 163.58 L108.50 163.45 L108.94 163.33 L109.38 163.20 L109.83 163.07 L110.28 162.94 L110.73 162.82 L111.19 162.69 L111.64 162.56 L112.10 162.44 L112.56 162.31 L113.03 162.18 L113.49 162.05 L113.96 161.93 L114.43 161.80 L114.91 161.67 L115.38 161.54 L115.86 161.41 L116.35 161.29 L116.83 161.16 L117.32 161.03 L117.80 160.90 L118.30 160.77 L118.79 160.65 L119.29 160.52 L119.79 160.39 L120.29 160.26 L120.79 160.14 L121.30 160.02 L121.81 159.89 L122.32 159.77 L122.84 159.65 L123.36 159.52 L123.88 159.40 L124.40 159.28 L124.92 159.15 L125.45 159.03 L125.98 158.91 L126.52 158.78 L127.05 158.66 L127.59 158.54 L128.13 158.41 L128.68 158.29 L129.23 158.16 L129.78 158.04 L130.33 157.92 L130.88 157.79 L131.44 157.67 L132.00 157.54 L132.57 157.42 L133.13 157.29 L133.70 157.17 L134.28 157.05 L134.85 156.92 L135.43 156.80 L136.01 156.67 L136.59 156.55 L137.18 156.42 L137.77 156.30 L138.36 156.17 L138.96 156.05 L139.55 155.93 L140.16 155.80 L140.76 155.68 L141.37 155.55 L141.97 155.43 L142.59 155.30 L143.20 155.18 L143.82 155.05 L144.44 154.93 L145.06 154.80 L145.69 154.67 L146.32 154.55 L146.95 154.42 L147.59 154.30 L148.23 154.17 L148.87 154.05 L149.51 153.92 L150.16 153.80 L150.81 153.67 L151.47 153.55 L152.12 153.42 L152.78 153.29 L153.44 153.17 L154.11 153.04 L154.78 152.92 L155.45 152.79 L156.12 152.66 L156.80 152.54 L157.48 152.41 L158.16 152.28 L158.85 152.16 L159.54 152.03 L160.23 151.90 L160.92 151.78 L161.62 151.65 L162.32 151.52 L163.03 151.40 L163.73 151.27 L164.44 151.14 L165.15 151.02 L165.87 150.89 L166.59 150.76 L167.31 150.63 L168.04 150.51 L168.76 150.38 L169.49 150.25 L170.23 150.12 L170.96 150.00 L171.70 149.87 L172.45 149.74 L173.19 149.61 L173.94 149.49 L174.69 149.36 L175.45 149.23 L176.20 149.10 L176.96 148.97 L177.73 148.84 L178.49 148.72 L179.26 148.59 L180.03 148.46 L180.81 148.33 L181.58 148.20 L182.36 148.07 L183.15 147.94 L183.93 147.82 L184.72 147.69 L185.51 147.56 L186.31 147.43 L187.11 147.30 L187.91 147.17 L188.71 147.04 L189.51 146.91 L190.32 146.78 L191.13 146.65 L191.95 146.52 L192.76 146.39 L193.58 146.26 L194.40 146.13 L195.23 146.00 L196.06 145.87 L196.89 145.74 L197.72 145.61 L198.55 145.48 L199.39 145.35 L200.23 145.22 L201.08 145.09 L201.92 144.95 L202.77 144.82 L203.62 144.69 L204.47 144.56 L205.33 144.43 L206.19 144.30 L207.05 144.17 L207.91 144.03 L208.77 143.90 L209.64 143.77 L210.51 143.64 L211.38 143.51 L212.26 143.37 L213.13 143.24 L214.01 143.11 L214.89 142.98 L215.78 142.84 L216.66 142.71 L217.55 142.58 L218.44 142.45 L219.33 142.31 L220.22 142.18 L221.12 142.05 L222.02 141.91 L222.92 141.78 L223.82 141.65 L224.72 141.51 L225.63 141.38 L226.53 141.24 L227.44 141.11 L228.35 140.98 L229.26 140.84 L230.18 140.71 L231.09 140.57 L232.01 140.44 L232.93 140.30 L233.85 140.17 L234.77 140.03 L235.69 139.90 L236.62 139.76 L237.54 139.63 L238.47 139.49 L239.40 139.36 L240.33 139.22 L241.26 139.08 L242.19 138.95 L243.12 138.81 L244.06 138.68 L244.99 138.54 L245.93 138.40 L246.86 138.27 L247.80 138.13 L248.74 137.99 L249.68 137.86 L250.62 137.72 L251.56 137.58 L252.50 137.44 L253.44 137.31 L254.38 137.17 L255.33 137.03 L256.27 136.89 L257.21 136.75 L258.16 136.62 L259.10 136.48 L260.05 136.34 L260.99 136.20 L261.94 136.06 L262.88 135.92 L263.82 135.78 L264.77 135.64 L265.71 135.50 L266.66 135.36 L267.60 135.22 L268.55 135.08 L269.49 134.94 L270.43 134.80 L271.37 134.66 L272.32 134.52 L273.26 134.38 L274.20 134.24 L275.14 134.10 L276.08 133.96 L277.02 133.82 L277.95 133.68 L278.89 133.53 L279.83 133.39 L280.76 133.25 L281.69 133.11 L282.63 132.97 L283.56 132.82 L284.49 132.68 L285.41 132.54 L286.34 132.40 L287.27 132.25 L288.19 132.11 L289.11 131.97 L290.03 131.82 L290.95 131.68 L291.87 131.54 L292.78 131.39 L293.69 131.25 L294.60 131.10 L295.51 130.96 L296.42 130.81 L297.32 130.67 L298.22 130.52 L299.12 130.38 L300.02 130.23 L300.91 130.09 L301.81 129.94 L302.69 129.80 L303.58 129.65 L304.46 129.50 L305.35 129.36 L306.22 129.21 L307.10 129.06 L307.97 128.92 L308.84 128.77 L309.71 128.62 L310.57 128.47 L311.43 128.33 L312.28 128.18 L313.14 128.03 L313.98 127.88 L314.83 127.73 L315.67 127.58 L316.51 127.44 L317.34 127.29 L318.18 127.14 L319.00 126.99 L319.83 126.84 L320.64 126.69 L321.46 126.54 L322.27 126.39 L323.08 126.24 L323.88 126.09 L324.68 125.94 L325.47 125.79 L326.26 125.63 L327.05 125.48 L327.83 125.33 L328.61 125.18 L329.38 125.03 L330.15 124.88 L330.91 124.72 L331.67 124.57 L332.42 124.42 L333.17 124.26 L333.91 124.11 L334.65 123.96 L335.39 123.80 L336.11 123.65 L336.84 123.50 L337.56 123.34 L338.27 123.19 L338.98 123.03 L339.68 122.88 L340.38 122.72 L341.08 122.57 L341.76 122.41 L342.45 122.26 L343.12 122.10 L343.79 121.94 L344.46 121.79 L345.12 121.63 L345.78 121.47 L346.43 121.32 L347.07 121.16 L347.71 121.00 L348.34 120.84 L348.97 120.68 L349.59 120.53 L350.21 120.37 L350.82 120.21 L351.42 120.05 L352.02 119.89 L352.62 119.73 L353.20 119.57 L353.78 119.41 L354.36 119.25 L354.93 119.09 L355.50 118.93 L356.05 118.77 L356.61 118.61 L357.15 118.45 L357.69 118.29 L358.23 118.12 L358.76 117.96 L359.28 117.80 L359.80 117.64 L360.31 117.47 L360.82 117.31 L361.32 117.15 L361.81 116.98 L362.30 116.82 L362.78 116.66 L363.26 116.49 L363.73 116.33 L364.20 116.16 L364.66 116.00 L365.11 115.83 L365.56 115.67 L366.00 115.50 L366.43 115.33 L366.86 115.17 L367.29 115.00 L367.71 114.83 L368.12 114.67 L368.53 114.50 L368.93 114.33 L369.33 114.16 L369.72 114.00 L370.10 113.83 L370.48 113.66 L370.86 113.49 L371.23 113.32 L371.59 113.15 L371.95 112.98 L372.30 112.81 L372.65 112.64 L372.99 112.47 L373.32 112.30 L373.65 112.13 L373.98 111.96 L374.30 111.78 L374.62 111.61 L374.93 111.44 L375.23 111.27 L375.53 111.09 L375.83 110.92 L376.12 110.75 L376.40 110.57 L376.68 110.40 L376.96 110.23 L377.23 110.05 L377.49 109.88 L377.75 109.70 L378.01 109.52 L378.26 109.35 L378.51 109.17 L378.75 109.00 L378.99 108.82 L379.22 108.64 L379.45 108.47 L379.68 108.29 L379.90 108.11 L380.11 107.93 L380.32 107.75 L380.53 107.57 L380.73 107.40 L380.93 107.22 L381.13 107.04 L381.32 106.86 L381.51 106.68 L381.69 106.50 L381.87 106.31 L382.05 106.13 L382.22 105.95 L382.55 105.59 L382.87 105.22 L383.18 104.86 L383.47 104.49 L383.74 104.12 L384.01 103.75 L384.26 103.38 L384.50 103.00 L384.73 102.63 L384.95 102.25 L385.16 101.87 L385.36 101.50 L385.54 101.12 L385.72 100.74 L385.89 100.35 L386.05 99.97 L386.20 99.58 L386.34 99.20 L386.47 98.81 L386.60 98.42 L386.72 98.03 L386.83 97.63 L386.94 97.24 L387.04 96.85 L387.13 96.45 L387.22 96.05 L387.30 95.65 L387.38 95.25 L387.45 94.85 L387.52 94.44 L387.58 94.04 L387.64 93.63 L387.69 93.22 L387.74 92.81 L387.79 92.40 L387.84 91.98 L387.88 91.57 L387.91 91.15 L387.95 90.73 L387.98 90.31 L388.01 89.89 L388.04 89.47 L388.07 89.04 L388.09 88.62 L388.11 88.19 L388.13 87.76 L388.15 87.33 L388.17 86.89 L388.18 86.46 L388.20 86.02 L388.21 85.58 L388.22 85.14 L388.23 84.70 L388.24 84.26 L388.25 83.81 L388.26 83.37 L388.27 82.92 L388.27 82.47 L388.28 82.01 L388.28 81.56 L388.29 81.10 L388.29 80.65 L388.30 80.19 L388.30 79.72 L388.30 79.26 L388.31 78.80 L388.31 78.33 L388.31 77.86 L388.31 77.39 L388.32 76.92 L388.32 76.44 L388.32 75.97 L388.32 75.49 L388.32 75.01 L388.32 74.52 L388.32 74.04 L388.32 73.55 L388.33 73.20" fill="none" stroke="#00f" stroke-width="1.65" stroke-dasharray="13.6 3.5 6.7 3.5" stroke-dashoffset="0"/>
<path d="M31.51 302.70 L31.51 302.36 L31.51 301.99 L31.51 301.63 L31.51 301.26 L31.51 300.90 L31.51 300.53 L31.51 300.16 L31.51 299.80 L31.51 299.43 L31.52 299.07 L31.52 298.70 L31.52 298.34 L31.52 297.97 L31.52 297.60 L31.52 297.24 L31.52 296.87 L31.52 296.51 L31.53 296.14 L31.53 295.77 L31.53 295.41 L31.53 295.04 L31.53 294.68 L31.53 294.31 L31.53 293.94 L31.54 293.58 L31.54 293.21 L31.54 292.85 L31.54 292.48 L31.54 292.11 L31.54 291.75 L31.55 291.38 L31.55 291.02 L31.55 290.65 L31.55 290.28 L31.55 289.92 L31.55 289.55 L31.56 289.19 L31.56 288.82 L31.56 288.46 L31.56 288.09 L31.56 287.72 L31.57 287.36 L31.57 286.99 L31.57 286.63 L31.57 286.26 L31.57 285.89 L31.58 285.53 L31.58 285.16 L31.58 284.80 L31.58 284.43 L31.59 284.06 L31.59 283.70 L31.59 283.33 L31.59 282.97 L31.60 282.60 L31.60 282.23 L31.60 281.87 L31.60 281.50 L31.61 281.14 L31.61 280.77 L31.61 280.40 L31.61 280.04 L31.62 279.67 L31.62 279.31 L31.62 278.94 L31.63 278.58 L31.63 278.21 L31.63 277.84 L31.64 277.48 L31.64 277.11 L31.64 276.75 L31.65 276.38 L31.65 276.01 L31.65 275.65 L31.66 275.28 L31.66 274.92 L31.67 274.55 L31.67 274.18 L31.67 273.82 L31.68 273.45 L31.68 273.09 L31.69 272.72 L31.69 272.35 L31.69 271.99 L31.70 271.62 L31.70 271.26 L31.71 270.89 L31.71 270.52 L31.72 270.16 L31.72 269.79 L31.73 269.43 L31.73 269.06 L31.74 268.70 L31.74 268.33 L31.75 267.96 L31.75 267.60 L31.76 267.23 L31.76 266.87 L31.77 266.50 L31.77 266.13 L31.78 265.77 L31.79 265.40 L31.79 265.04 L31.80 264.67 L31.80 264.30 L31.81 263.94 L31.82 263.57 L31.82 263.21 L31.83 262.84 L31.84 262.47 L31.84 262.11 L31.85 261.74 L31.86 261.38 L31.86 261.01 L31.87 260.64 L31.88 260.28 L31.89 259.91 L31.90 259.55 L31.90 259.18 L31.91 258.82 L31.92 258.45 L31.93 258.08 L31.94 257.72 L31.95 257.35 L31.95 256.99 L31.96 256.62 L31.97 256.25 L31.98 255.89 L31.99 255.52 L32.00 255.16 L32.01 254.79 L32.02 254.42 L32.03 254.06 L32.04 253.69 L32.05 253.33 L32.06 252.96 L32.07 252.59 L32.09 252.23 L32.10 251.86 L32.11 251.50 L32.12 251.13 L32.13 250.76 L32.14 250.40 L32.16 250.03 L32.17 249.67 L32.18 249.30 L32.19 248.94 L32.21 248.57 L32.22 248.20 L32.24 247.84 L32.25 247.47 L32.26 247.11 L32.28 246.74 L32.29 246.37 L32.31 246.01 L32.32 245.64 L32.34 245.28 L32.36 244.91 L32.37 244.54 L32.39 244.18 L32.40 243.81 L32.42 243.45 L32.44 243.08 L32.46 242.71 L32.48 242.35 L32.49 241.98 L32.51 241.62 L32.53 241.25 L32.55 240.88 L32.57 240.52 L32.59 240.15 L32.61 239.79 L32.63 239.42 L32.65 239.06 L32.67 238.69 L32.70 238.32 L32.72 237.96 L32.74 237.59 L32.76 237.23 L32.79 236.86 L32.81 236.49 L32.84 236.13 L32.86 235.76 L32.89 235.40 L32.91 235.03 L32.94 234.66 L32.96 234.30 L32.99 233.93 L33.02 233.57 L33.05 233.20 L33.08 232.83 L33.10 232.47 L33.13 232.10 L33.16 231.74 L33.20 231.37 L33.23 231.00 L33.26 230.64 L33.29 230.27 L33.32 229.91 L33.36 229.54 L33.39 229.18 L33.43 228.81 L33.46 228.44 L33.50 228.08 L33.53 227.71 L33.57 227.35 L33.61 226.98 L33.65 226.61 L33.69 226.25 L33.73 225.88 L33.77 225.52 L33.81 225.15 L33.85 224.78 L33.89 224.42 L33.94 224.05 L33.98 223.69 L34.03 223.32 L34.07 222.95 L34.12 222.59 L34.17 222.22 L34.22 221.86 L34.27 221.49 L34.32 221.12 L34.37 220.76 L34.42 220.39 L34.47 220.03 L34.53 219.66 L34.58 219.30 L34.64 218.93 L34.70 218.56 L34.75 218.20 L34.81 217.83 L34.87 217.47 L34.94 217.10 L35.00 216.73 L35.06 216.37 L35.13 216.00 L35.19 215.64 L35.26 215.27 L35.33 214.90 L35.40 214.54 L35.47 214.17 L35.54 213.81 L35.61 213.44 L35.69 213.07 L35.76 212.71 L35.84 212.34 L35.92 211.98 L36.00 211.61 L36.08 211.24 L36.13 211.00 L36.19 210.76 L36.25 210.51 L36.30 210.27 L36.36 210.02 L36.42 209.78 L36.48 209.54 L36.54 209.29 L36.60 209.05 L36.66 208.80 L36.72 208.56 L36.78 208.32 L36.85 208.07 L36.91 207.83 L36.98 207.58 L37.04 207.34 L37.11 207.10 L37.18 206.85 L37.24 206.61 L37.31 206.36 L37.38 206.12 L37.45 205.87 L37.53 205.63 L37.60 205.39 L37.67 205.14 L37.74 204.90 L37.82 204.65 L37.90 204.41 L37.97 204.16 L38.05 203.92 L38.13 203.68 L38.21 203.43 L38.29 203.19 L38.37 202.94 L38.45 202.70 L38.53 202.45 L38.62 202.21 L38.70 201.97 L38.79 201.72 L38.88 201.48 L38.97 201.23 L39.06 200.99 L39.15 200.74 L39.24 200.50 L39.33 200.26 L39.42 200.01 L39.52 199.77 L39.61 199.52 L39.71 199.28 L39.81 199.04 L39.91 198.79 L40.01 198.55 L40.11 198.30 L40.21 198.06 L40.32 197.81 L40.42 197.57 L40.53 197.33 L40.64 197.08 L40.75 196.84 L40.86 196.59 L40.97 196.35 L41.08 196.11 L41.20 195.86 L41.31 195.62 L41.43 195.37 L41.55 195.13 L41.67 194.89 L41.79 194.64 L41.91 194.40 L42.04 194.15 L42.17 193.91 L42.29 193.67 L42.42 193.42 L42.55 193.18 L42.68 192.93 L42.82 192.69 L42.95 192.45 L43.09 192.20 L43.23 191.96 L43.37 191.71 L43.51 191.47 L43.65 191.23 L43.80 190.98 L43.94 190.74 L44.09 190.50 L44.24 190.25 L44.40 190.01 L44.55 189.76 L44.71 189.52 L44.86 189.28 L45.02 189.04 L45.18 188.82 L45.35 188.60 L45.51 188.38 L45.68 188.17 L45.85 187.95 L46.02 187.73 L46.19 187.52 L46.37 187.30 L46.55 187.09 L46.72 186.87 L46.91 186.66 L47.09 186.45 L47.28 186.23 L47.46 186.02 L47.65 185.81 L47.85 185.59 L48.04 185.38 L48.24 185.17 L48.44 184.96 L48.64 184.75 L48.84 184.54 L49.05 184.33 L49.26 184.12 L49.47 183.91 L49.69 183.70 L49.90 183.49 L50.12 183.27 L50.34 183.04 L50.57 182.81 L50.80 182.59 L51.03 182.36 L51.26 182.13 L51.49 181.91 L51.73 181.68 L51.97 181.45 L52.22 181.23 L52.46 181.00 L52.71 180.78 L52.97 180.55 L53.22 180.33 L53.48 180.10 L53.74 179.88 L54.01 179.65 L54.27 179.43 L54.54 179.20 L54.82 178.98 L55.10 178.76 L55.38 178.53 L55.66 178.31 L55.95 178.09 L56.24 177.87 L56.53 177.64 L56.83 177.42 L57.13 177.20 L57.44 176.98 L57.75 176.76 L58.06 176.54 L58.37 176.31 L58.69 176.09 L59.02 175.87 L59.34 175.65 L59.68 175.43 L60.01 175.21 L60.35 174.97 L60.69 174.73 L61.04 174.49 L61.39 174.24 L61.75 174.00 L62.10 173.76 L62.47 173.51 L62.84 173.27 L63.21 173.03 L63.58 172.79 L63.97 172.54 L64.35 172.30 L64.74 172.06 L65.14 171.81 L65.54 171.57 L65.94 171.33 L66.35 171.09 L66.76 170.84 L67.18 170.60 L67.60 170.36 L68.03 170.11 L68.47 169.87 L68.68 169.75 L68.90 169.63 L69.12 169.51 L69.35 169.39 L69.57 169.26 L69.80 169.14 L70.02 169.02 L70.25 168.90 L70.48 168.77 L70.71 168.65 L70.94 168.53 L71.17 168.41 L71.41 168.28 L71.64 168.16 L71.88 168.04 L72.12 167.91 L72.36 167.79 L72.60 167.67 L72.84 167.54 L73.09 167.42 L73.33 167.30 L73.58 167.17 L73.83 167.05 L74.08 166.93 L74.33 166.80 L74.58 166.68 L74.84 166.56 L75.09 166.43 L75.35 166.31 L75.61 166.19 L75.87 166.06 L76.13 165.94 L76.40 165.82 L76.66 165.69 L76.93 165.57 L77.20 165.45 L77.46 165.32 L77.74 165.20 L78.01 165.08 L78.28 164.95 L78.56 164.83 L78.84 164.71 L79.12 164.58 L79.40 164.46 L79.68 164.34 L79.96 164.21 L80.25 164.09 L80.54 163.97 L80.82 163.84 L81.11 163.72 L81.41 163.59 L81.70 163.47 L82.00 163.35 L82.29 163.22 L82.59 163.10 L82.89 162.98 L83.20 162.85 L83.50 162.73 L83.81 162.60 L84.12 162.48 L84.43 162.36 L84.74 162.23 L85.05 162.11 L85.37 161.98 L85.68 161.86 L86.00 161.74 L86.32 161.61 L86.64 161.49 L86.97 161.36 L87.29 161.24 L87.62 161.12 L87.95 160.99 L88.28 160.87 L88.62 160.74 L88.95 160.62 L89.29 160.50 L89.63 160.37 L89.97 160.25 L90.32 160.12 L90.66 160.00 L91.01 159.87 L91.36 159.75 L91.71 159.62 L92.06 159.50 L92.42 159.38 L92.78 159.25 L93.14 159.13 L93.50 159.00 L93.86 158.88 L94.23 158.75 L94.59 158.63 L94.96 158.50 L95.34 158.38 L95.71 158.25 L96.09 158.13 L96.47 158.00 L96.85 157.88 L97.23 157.76 L97.61 157.63 L98.00 157.51 L98.39 157.38 L98.78 157.26 L99.18 157.13 L99.57 157.01 L99.97 156.88 L100.37 156.76 L100.77 156.63 L101.18 156.51 L101.59 156.38 L102.00 156.26 L102.41 156.13 L102.82 156.01 L103.24 155.88 L103.66 155.76 L104.08 155.64 L104.50 155.51 L104.93 155.39 L105.36 155.26 L105.79 155.14 L106.22 155.01 L106.66 154.89 L107.10 154.76 L107.54 154.64 L107.98 154.51 L108.43 154.39 L108.88 154.26 L109.33 154.14 L109.78 154.01 L110.24 153.89 L110.70 153.76 L111.16 153.64 L111.62 153.51 L112.09 153.39 L112.55 153.26 L113.03 153.14 L113.50 153.01 L113.98 152.89 L114.46 152.76 L114.94 152.63 L115.42 152.51 L115.91 152.38 L116.40 152.26 L116.89 152.13 L117.39 152.01 L117.89 151.88 L118.39 151.76 L118.89 151.63 L119.40 151.50 L119.91 151.38 L120.42 151.25 L120.94 151.12 L121.45 151.00 L121.97 150.87 L122.50 150.74 L123.02 150.61 L123.55 150.48 L124.09 150.36 L124.62 150.23 L125.16 150.10 L125.70 149.97 L126.24 149.85 L126.79 149.72 L127.34 149.59 L127.89 149.46 L128.45 149.33 L129.01 149.20 L129.57 149.08 L130.14 148.95 L130.70 148.82 L131.28 148.69 L131.85 148.56 L132.43 148.43 L133.01 148.30 L133.59 148.18 L134.18 148.05 L134.77 147.92 L135.36 147.79 L135.96 147.66 L136.56 147.53 L137.16 147.40 L137.76 147.27 L138.37 147.14 L138.99 147.02 L139.60 146.89 L140.22 146.76 L140.84 146.63 L141.47 146.50 L142.10 146.37 L142.73 146.24 L143.36 146.11 L144.00 145.98 L144.64 145.85 L145.29 145.72 L145.94 145.59 L146.59 145.46 L147.25 145.33 L147.90 145.20 L148.57 145.07 L149.23 144.94 L149.90 144.81 L150.57 144.68 L151.25 144.55 L151.93 144.42 L152.61 144.29 L153.30 144.16 L153.99 144.03 L154.68 143.90 L155.38 143.77 L156.08 143.64 L156.79 143.50 L157.49 143.37 L158.21 143.24 L158.92 143.11 L159.64 142.98 L160.36 142.85 L161.09 142.72 L161.82 142.59 L162.55 142.46 L163.29 142.32 L164.03 142.19 L164.77 142.06 L165.52 141.93 L166.27 141.80 L167.03 141.67 L167.79 141.53 L168.55 141.40 L169.32 141.27 L170.09 141.14 L170.86 141.01 L171.64 140.87 L172.42 140.74 L173.21 140.61 L174.00 140.48 L174.79 140.34 L175.59 140.21 L176.39 140.08 L177.20 139.95 L178.00 139.81 L178.82 139.68 L179.63 139.55 L180.45 139.41 L181.28 139.28 L182.10 139.14 L182.94 139.01 L183.77 138.87 L184.61 138.73 L185.46 138.60 L186.30 138.46 L187.15 138.33 L188.01 138.19 L188.87 138.05 L189.73 137.92 L190.60 137.78 L191.47 137.64 L192.35 137.50 L193.22 137.37 L194.11 137.23 L194.99 137.09 L195.88 136.96 L196.78 136.82 L197.68 136.68 L198.58 136.54 L199.49 136.41 L200.40 136.27 L201.31 136.13 L202.23 135.99 L203.15 135.85 L204.08 135.72 L205.01 135.58 L205.95 135.44 L206.88 135.30 L207.83 135.16 L208.77 135.02 L209.72 134.89 L210.68 134.75 L211.64 134.61 L212.60 134.47 L213.56 134.33 L214.53 134.19 L215.51 134.05 L216.49 133.91 L217.47 133.77 L218.45 133.63 L219.44 133.49 L220.44 133.35 L221.44 133.21 L222.44 133.07 L223.44 132.93 L224.45 132.79 L225.47 132.65 L226.48 132.51 L227.50 132.37 L228.53 132.23 L229.56 132.09 L230.59 131.95 L231.63 131.81 L232.67 131.67 L233.71 131.53 L234.76 131.39 L235.81 131.24 L236.87 131.10 L237.93 130.96 L238.99 130.82 L240.06 130.68 L241.13 130.55 L242.20 130.42 L243.28 130.29 L244.36 130.16 L245.45 130.03 L246.53 129.90 L247.63 129.77 L248.72 129.64 L249.82 129.51 L250.93 129.38 L252.03 129.25 L253.14 129.12 L254.26 128.99 L255.37 128.86 L256.49 128.73 L257.62 128.60 L258.74 128.47 L259.88 128.34 L261.01 128.21 L262.15 128.08 L263.29 127.95 L264.43 127.82 L265.58 127.69 L266.73 127.56 L267.88 127.43 L269.04 127.30 L270.20 127.17 L271.36 127.04 L272.53 126.91 L273.70 126.78 L274.87 126.64 L276.04 126.51 L277.22 126.38 L278.40 126.25 L279.58 126.12 L280.77 125.99 L281.96 125.86 L283.15 125.73 L284.34 125.59 L285.54 125.46 L286.74 125.33 L287.94 125.20 L289.14 125.07 L290.35 124.93 L291.56 124.80 L292.77 124.67 L293.99 124.54 L295.20 124.41 L296.42 124.27 L297.64 124.14 L298.86 124.01 L300.09 123.88 L301.31 123.74 L302.54 123.61 L303.77 123.48 L305.01 123.35 L306.24 123.21 L307.48 123.08 L308.71 122.95 L309.95 122.81 L311.19 122.68 L312.44 122.55 L313.68 122.41 L314.92 122.28 L316.17 122.15 L317.42 122.01 L318.67 121.88 L319.92 121.75 L321.17 121.61 L322.42 121.48 L323.67 121.34 L324.93 121.21 L326.18 121.08 L327.44 120.94 L328.70 120.81 L329.95 120.67 L331.21 120.54 L332.47 120.40 L333.73 120.27 L334.99 120.14 L336.24 120.00 L337.50 119.87 L338.76 119.73 L340.02 119.60 L341.28 119.46 L342.54 119.33 L343.80 119.19 L345.06 119.06 L346.32 118.92 L347.58 118.78 L348.84 118.65 L350.09 118.51 L351.35 118.38 L352.61 118.24 L353.86 118.11 L355.11 117.97 L356.37 117.83 L357.62 117.70 L358.87 117.56 L360.12 117.43 L361.37 117.29 L362.62 117.15 L363.86 117.02 L365.11 116.88 L366.35 116.74 L367.59 116.61 L368.83 116.47 L370.07 116.33 L371.30 116.20 L372.54 116.06 L373.77 115.92 L375.00 115.78 L376.22 115.65 L377.45 115.51 L378.67 115.37 L379.89 115.23 L381.11 115.10 L382.32 114.96 L383.53 114.82 L384.74 114.68 L385.95 114.54 L387.15 114.40 L388.35 114.27 L389.54 114.13 L390.74 113.99 L391.92 113.85 L393.11 113.71 L394.29 113.57 L395.47 113.43 L396.64 113.30 L397.81 113.16 L398.98 113.02 L400.14 112.88 L401.30 112.74 L402.46 112.60 L403.61 112.46 L404.75 112.32 L405.89 112.18 L407.03 112.04 L408.16 111.90 L409.29 111.76 L410.41 111.62 L411.53 111.48 L412.64 111.34 L413.75 111.20 L414.85 111.06 L415.95 110.92 L417.04 110.78 L418.13 110.64 L419.21 110.49 L420.29 110.35 L421.36 110.21 L422.42 110.07 L423.48 109.93 L424.53 109.79 L425.58 109.65 L426.62 109.50 L427.66 109.36 L428.69 109.22 L429.71 109.08 L430.73 108.94 L431.74 108.79 L432.74 108.65 L433.74 108.51 L434.73 108.37 L435.72 108.22 L436.70 108.08 L437.67 107.94 L438.64 107.80 L439.59 107.65 L440.55 107.51 L441.49 107.37 L442.43 107.22 L443.36 107.08 L444.28 106.94 L445.20 106.79 L446.11 106.65 L447.01 106.50 L447.91 106.36 L448.80 106.22 L449.68 106.07 L450.55 105.93 L451.42 105.78 L452.28 105.64 L453.13 105.49 L453.97 105.35 L454.81 105.20 L455.64 105.06 L456.46 104.91 L457.27 104.77 L458.08 104.62 L458.88 104.48 L459.67 104.33 L460.45 104.18 L461.23 104.04 L462.00 103.89 L462.76 103.75 L463.51 103.60 L464.25 103.45 L464.99 103.31 L465.72 103.16 L466.44 103.01 L467.16 102.87 L467.86 102.72 L468.56 102.57 L469.25 102.42 L469.93 102.28 L470.61 102.13 L471.27 101.98 L471.93 101.83 L472.58 101.69 L473.23 101.54 L473.86 101.39 L474.49 101.24 L475.11 101.09 L475.72 100.94 L476.33 100.80 L476.92 100.65 L477.51 100.50 L478.10 100.35 L478.67 100.20 L479.24 100.05 L479.79 99.90 L480.35 99.75 L480.89 99.60 L481.43 99.45 L481.95 99.30 L482.47 99.15 L482.99 99.00 L483.49 98.85 L483.99 98.70 L484.48 98.55 L484.97 98.40 L485.45 98.25 L485.92 98.10 L486.38 97.95 L486.83 97.80 L487.28 97.64 L487.72 97.49 L488.16 97.34 L488.58 97.19 L489.00 97.04 L489.42 96.88 L489.83 96.73 L490.23 96.58 L490.63 96.43 L491.03 96.28 L491.42 96.12 L491.80 95.97 L492.17 95.82 L492.54 95.66 L492.91 95.51 L493.26 95.36 L493.61 95.20 L493.95 95.05 L494.29 94.89 L494.62 94.74 L494.95 94.59 L495.26 94.43 L495.58 94.28 L495.88 94.12 L496.18 93.97 L496.48 93.81 L496.77 93.66 L497.05 93.50 L497.33 93.35 L497.60 93.19 L497.87 93.04 L498.13 92.88 L498.38 92.72 L498.63 92.57 L498.88 92.41 L499.12 92.26 L499.35 92.10 L499.58 91.94 L499.81 91.79 L500.03 91.63 L500.24 91.47 L500.45 91.31 L500.66 91.16 L500.86 91.00 L501.05 90.84 L501.43 90.53 L501.80 90.21 L502.14 89.89 L502.47 89.57 L502.78 89.25 L503.08 88.94 L503.36 88.62 L503.63 88.30 L503.89 87.97 L504.13 87.65 L504.36 87.33 L504.57 87.01 L504.78 86.68 L504.97 86.36 L505.16 86.03 L505.33 85.71 L505.49 85.38 L505.64 85.06 L505.79 84.73 L505.92 84.40 L506.05 84.07 L506.17 83.74 L506.28 83.41 L506.39 83.08 L506.49 82.75 L506.58 82.41 L506.66 82.08 L506.75 81.75 L506.82 81.41 L506.89 81.08 L506.95 80.74 L507.01 80.40 L507.07 80.07 L507.12 79.73 L507.17 79.39 L507.21 79.05 L507.26 78.71 L507.29 78.37 L507.33 78.03 L507.36 77.68 L507.39 77.34 L507.42 77.00 L507.44 76.65 L507.47 76.31 L507.49 75.96 L507.51 75.61 L507.53 75.26 L507.54 74.91 L507.56 74.56 L507.57 74.21 L507.58 73.86 L507.59 73.51 L507.60 73.16 L507.61 72.80 L507.62 72.45 L507.63 72.09 L507.63 71.74 L507.64 71.38 L507.65 71.02 L507.65 70.66 L507.66 70.31 L507.66 69.95 L507.66 69.58 L507.67 69.22 L507.67 68.86 L507.67 68.50 L507.67 68.13 L507.68 67.77 L507.68 67.40 L507.68 67.03 L507.68 66.66 L507.68 66.30 L507.68 65.93 L507.68 65.56 L507.68 65.18 L507.69 64.81 L507.69 64.44 L507.69 64.06 L507.69 63.69 L507.69 63.31 L507.69 62.94 L507.69 62.56 L507.69 62.18 L507.69 61.80 L507.69 61.42 L507.69 61.04 L507.69 60.65 L507.69 60.27 L507.69 59.89 L507.69 59.50 L507.69 59.11 L507.69 58.73 L507.69 58.34 L507.69 57.95 L507.69 57.56 L507.69 57.17 L507.69 56.78 L507.69 56.38 L507.69 55.99 L507.69 55.59 L507.69 55.20 L507.69 55.00" fill="none" stroke="#000" stroke-opacity="0.45" stroke-width="0.85"/>
<path d="M31.51 302.70 L31.51 302.36 L31.51 301.99 L31.51 301.63 L31.51 301.26 L31.51 300.90 L31.51 300.53 L31.51 300.16 L31.51 299.80 L31.51 299.43 L31.52 299.07 L31.52 298.70 L31.52 298.34 L31.52 297.97 L31.52 297.60 L31.52 297.24 L31.52 296.87 L31.52 296.51 L31.53 296.14 L31.53 295.77 L31.53 295.41 L31.53 295.04 L31.53 294.68 L31.53 294.31 L31.53 293.94 L31.54 293.58 L31.54 293.21 L31.54 292.85 L31.54 292.48 L31.54 292.11 L31.54 291.75 L31.55 291.38 L31.55 291.02 L31.55 290.65 L31.55 290.28 L31.55 289.92 L31.55 289.55 L31.56 289.19 L31.56 288.82 L31.56 288.46 L31.56 288.09 L31.56 287.72 L31.57 287.36 L31.57 286.99 L31.57 286.63 L31.57 286.26 L31.57 285.89 L31.58 285.53 L31.58 285.16 L31.58 284.80 L31.58 284.43 L31.59 284.06 L31.59 283.70 L31.59 283.33 L31.59 282.97 L31.60 282.60 L31.60 282.23 L31.60 281.87 L31.60 281.50 L31.61 281.14 L31.61 280.77 L31.61 280.40 L31.61 280.04 L31.62 279.67 L31.62 279.31 L31.62 278.94 L31.63 278.58 L31.63 278.21 L31.63 277.84 L31.64 277.48 L31.64 277.11 L31.64 276.75 L31.65 276.38 L31.65 276.01 L31.65 275.65 L31.66 275.28 L31.66 274.92 L31.67 274.55 L31.67 274.18 L31.67 273.82 L31.68 273.45 L31.68 273.09 L31.69 272.72 L31.69 272.35 L31.69 271.99 L31.70 271.62 L31.70 271.26 L31.71 270.89 L31.71 270.52 L31.72 270.16 L31.72 269.79 L31.73 269.43 L31.73 269.06 L31.74 268.70 L31.74 268.33 L31.75 267.96 L31.75 267.60 L31.76 267.23 L31.76 266.87 L31.77 266.50 L31.77 266.13 L31.78 265.77 L31.79 265.40 L31.79 265.04 L31.80 264.67 L31.80 264.30 L31.81 263.94 L31.82 263.57 L31.82 263.21 L31.83 262.84 L31.84 262.47 L31.84 262.11 L31.85 261.74 L31.86 261.38 L31.86 261.01 L31.87 260.64 L31.88 260.28 L31.89 259.91 L31.90 259.55 L31.90 259.18 L31.91 258.82 L31.92 258.45 L31.93 258.08 L31.94 257.72 L31.95 257.35 L31.95 256.99 L31.96 256.62 L31.97 256.25 L31.98 255.89 L31.99 255.52 L32.00 255.16 L32.01 254.79 L32.02 254.42 L32.03 254.06 L32.04 253.69 L32.05 253.33 L32.06 252.96 L32.07 252.59 L32.09 252.23 L32.10 251.86 L32.11 251.50 L32.12 251.13 L32.13 250.76 L32.14 250.40 L32.16 250.03 L32.17 249.67 L32.18 249.30 L32.19 248.94 L32.21 248.57 L32.22 248.20 L32.24 247.84 L32.25 247.47 L32.26 247.11 L32.28 246.74 L32.29 246.37 L32.31 246.01 L32.32 245.64 L32.34 245.28 L32.36 244.91 L32.37 244.54 L32.39 244.18 L32.40 243.81 L32.42 243.45 L32.44 243.08 L32.46 242.71 L32.48 242.35 L32.49 241.98 L32.51 241.62 L32.53 241.25 L32.55 240.88 L32.57 240.52 L32.59 240.15 L32.61 239.79 L32.63 239.42 L32.65 239.06 L32.67 238.69 L32.70 238.32 L32.72 237.96 L32.74 237.59 L32.76 237.23 L32.79 236.86 L32.81 236.49 L32.84 236.13 L32.86 235.76 L32.89 235.40 L32.91 235.03 L32.94 234.66 L32.96 234.30 L32.99 233.93 L33.02 233.57 L33.05 233.20 L33.08 232.83 L33.10 232.47 L33.13 232.10 L33.16 231.74 L33.20 231.37 L33.23 231.00 L33.26 230.64 L33.29 230.27 L33.32 229.91 L33.36 229.54 L33.39 229.18 L33.43 228.81 L33.46 228.44 L33.50 228.08 L33.53 227.71 L33.57 227.35 L33.61 226.98 L33.65 226.61 L33.69 226.25 L33.73 225.88 L33.77 225.52 L33.81 225.15 L33.85 224.78 L33.89 224.42 L33.94 224.05 L33.98 223.69 L34.03 223.32 L34.07 222.95 L34.12 222.59 L34.17 222.22 L34.22 221.86 L34.27 221.49 L34.32 221.12 L34.37 220.76 L34.42 220.39 L34.47 220.03 L34.53 219.66 L34.58 219.30 L34.64 218.93 L34.70 218.56 L34.75 218.20 L34.81 217.83 L34.87 217.47 L34.94 217.10 L35.00 216.73 L35.06 216.37 L35.13 216.00 L35.19 215.64 L35.26 215.27 L35.33 214.90 L35.40 214.54 L35.47 214.17 L35.54 213.81 L35.61 213.44 L35.69 213.07 L35.76 212.71 L35.84 212.34 L35.92 211.98 L36.00 211.61 L36.08 211.24 L36.13 211.00 L36.19 210.76 L36.25 210.51 L36.30 210.27 L36.36 210.02 L36.42 209.78 L36.48 209.54 L36.54 209.29 L36.60 209.05 L36.66 208.80 L36.72 208.56 L36.78 208.32 L36.85 208.07 L36.91 207.83 L36.98 207.58 L37.04 207.34 L37.11 207.10 L37.18 206.85 L37.24 206.61 L37.31 206.36 L37.38 206.12 L37.45 205.87 L37.53 205.63 L37.60 205.39 L37.67 205.14 L37.74 204.90 L37.82 204.65 L37.90 204.41 L37.97 204.16 L38.05 203.92 L38.13 203.68 L38.21 203.43 L38.29 203.19 L38.37 202.94 L38.45 202.70 L38.53 202.45 L38.62 202.21 L38.70 201.97 L38.79 201.72 L38.88 201.48 L38.97 201.23 L39.06 200.99 L39.15 200.74 L39.24 200.50 L39.33 200.26 L39.42 200.01 L39.52 199.77 L39.61 199.52 L39.71 199.28 L39.81 199.04 L39.91 198.79 L40.01 198.55 L40.11 198.30 L40.21 198.06 L40.32 197.81 L40.42 197.57 L40.53 197.33 L40.64 197.08 L40.75 196.84 L40.86 196.59 L40.97 196.35 L41.08 196.11 L41.20 195.86 L41.31 195.62 L41.43 195.37 L41.55 195.13 L41.67 194.89 L41.79 194.64 L41.91 194.40 L42.04 194.15 L42.17 193.91 L42.29 193.67 L42.42 193.42 L42.55 193.18 L42.68 192.93 L42.82 192.69 L42.95 192.45 L43.09 192.20 L43.23 191.96 L43.37 191.71 L43.51 191.47 L43.65 191.23 L43.80 190.98 L43.94 190.74 L44.09 190.50 L44.24 190.25 L44.40 190.01 L44.55 189.76 L44.71 189.52 L44.86 189.28 L45.02 189.04 L45.18 188.82 L45.35 188.60 L45.51 188.38 L45.68 188.17 L45.85 187.95 L46.02 187.73 L46.19 187.52 L46.37 187.30 L46.55 187.09 L46.72 186.87 L46.91 186.66 L47.09 186.45 L47.28 186.23 L47.46 186.02 L47.65 185.81 L47.85 185.59 L48.04 185.38 L48.24 185.17 L48.44 184.96 L48.64 184.75 L48.84 184.54 L49.05 184.33 L49.26 184.12 L49.47 183.91 L49.69 183.70 L49.90 183.49 L50.12 183.27 L50.34 183.04 L50.57 182.81 L50.80 182.59 L51.03 182.36 L51.26 182.13 L51.49 181.91 L51.73 181.68 L51.97 181.45 L52.22 181.23 L52.46 181.00 L52.71 180.78 L52.97 180.55 L53.22 180.33 L53.48 180.10 L53.74 179.88 L54.01 179.65 L54.27 179.43 L54.54 179.20 L54.82 178.98 L55.10 178.76 L55.38 178.53 L55.66 178.31 L55.95 178.09 L56.24 177.87 L56.53 177.64 L56.83 177.42 L57.13 177.20 L57.44 176.98 L57.75 176.76 L58.06 176.54 L58.37 176.31 L58.69 176.09 L59.02 175.87 L59.34 175.65 L59.68 175.43 L60.01 175.21 L60.35 174.97 L60.69 174.73 L61.04 174.49 L61.39 174.24 L61.75 174.00 L62.10 173.76 L62.47 173.51 L62.84 173.27 L63.21 173.03 L63.58 172.79 L63.97 172.54 L64.35 172.30 L64.74 172.06 L65.14 171.81 L65.54 171.57 L65.94 171.33 L66.35 171.09 L66.76 170.84 L67.18 170.60 L67.60 170.36 L68.03 170.11 L68.47 169.87 L68.68 169.75 L68.90 169.63 L69.12 169.51 L69.35 169.39 L69.57 169.26 L69.80 169.14 L70.02 169.02 L70.25 168.90 L70.48 168.77 L70.71 168.65 L70.94 168.53 L71.17 168.41 L71.41 168.28 L71.64 168.16 L71.88 168.04 L72.12 167.91 L72.36 167.79 L72.60 167.67 L72.84 167.54 L73.09 167.42 L73.33 167.30 L73.58 167.17 L73.83 167.05 L74.08 166.93 L74.33 166.80 L74.58 166.68 L74.84 166.56 L75.09 166.43 L75.35 166.31 L75.61 166.19 L75.87 166.06 L76.13 165.94 L76.40 165.82 L76.66 165.69 L76.93 165.57 L77.20 165.45 L77.46 165.32 L77.74 165.20 L78.01 165.08 L78.28 164.95 L78.56 164.83 L78.84 164.71 L79.12 164.58 L79.40 164.46 L79.68 164.34 L79.96 164.21 L80.25 164.09 L80.54 163.97 L80.82 163.84 L81.11 163.72 L81.41 163.59 L81.70 163.47 L82.00 163.35 L82.29 163.22 L82.59 163.10 L82.89 162.98 L83.20 162.85 L83.50 162.73 L83.81 162.60 L84.12 162.48 L84.43 162.36 L84.74 162.23 L85.05 162.11 L85.37 161.98 L85.68 161.86 L86.00 161.74 L86.32 161.61 L86.64 161.49 L86.97 161.36 L87.29 161.24 L87.62 161.12 L87.95 160.99 L88.28 160.87 L88.62 160.74 L88.95 160.62 L89.29 160.50 L89.63 160.37 L89.97 160.25 L90.32 160.12 L90.66 160.00 L91.01 159.87 L91.36 159.75 L91.71 159.62 L92.06 159.50 L92.42 159.38 L92.78 159.25 L93.14 159.13 L93.50 159.00 L93.86 158.88 L94.23 158.75 L94.59 158.63 L94.96 158.50 L95.34 158.38 L95.71 158.25 L96.09 158.13 L96.47 158.00 L96.85 157.88 L97.23 157.76 L97.61 157.63 L98.00 157.51 L98.39 157.38 L98.78 157.26 L99.18 157.13 L99.57 157.01 L99.97 156.88 L100.37 156.76 L100.77 156.63 L101.18 156.51 L101.59 156.38 L102.00 156.26 L102.41 156.13 L102.82 156.01 L103.24 155.88 L103.66 155.76 L104.08 155.64 L104.50 155.51 L104.93 155.39 L105.36 155.26 L105.79 155.14 L106.22 155.01 L106.66 154.89 L107.10 154.76 L107.54 154.64 L107.98 154.51 L108.43 154.39 L108.88 154.26 L109.33 154.14 L109.78 154.01 L110.24 153.89 L110.70 153.76 L111.16 153.64 L111.62 153.51 L112.09 153.39 L112.55 153.26 L113.03 153.14 L113.50 153.01 L113.98 152.89 L114.46 152.76 L114.94 152.63 L115.42 152.51 L115.91 152.38 L116.40 152.26 L116.89 152.13 L117.39 152.01 L117.89 151.88 L118.39 151.76 L118.89 151.63 L119.40 151.50 L119.91 151.38 L120.42 151.25 L120.94 151.12 L121.45 151.00 L121.97 150.87 L122.50 150.74 L123.02 150.61 L123.55 150.48 L124.09 150.36 L124.62 150.23 L125.16 150.10 L125.70 149.97 L126.24 149.85 L126.79 149.72 L127.34 149.59 L127.89 149.46 L128.45 149.33 L129.01 149.20 L129.57 149.08 L130.14 148.95 L130.70 148.82 L131.28 148.69 L131.85 148.56 L132.43 148.43 L133.01 148.30 L133.59 148.18 L134.18 148.05 L134.77 147.92 L135.36 147.79 L135.96 147.66 L136.56 147.53 L137.16 147.40 L137.76 147.27 L138.37 147.14 L138.99 147.02 L139.60 146.89 L140.22 146.76 L140.84 146.63 L141.47 146.50 L142.10 146.37 L142.73 146.24 L143.36 146.11 L144.00 145.98 L144.64 145.85 L145.29 145.72 L145.94 145.59 L146.59 145.46 L147.25 145.33 L147.90 145.20 L148.57 145.07 L149.23 144.94 L149.90 144.81 L150.57 144.68 L151.25 144.55 L151.93 144.42 L152.61 144.29 L153.30 144.16 L153.99 144.03 L154.68 143.90 L155.38 143.77 L156.08 143.64 L156.79 143.50 L157.49 143.37 L158.21 143.24 L158.92 143.11 L159.64 142.98 L160.36 142.85 L161.09 142.72 L161.82 142.59 L162.55 142.46 L163.29 142.32 L164.03 142.19 L164.77 142.06 L165.52 141.93 L166.27 141.80 L167.03 141.67 L167.79 141.53 L168.55 141.40 L169.32 141.27 L170.09 141.14 L170.86 141.01 L171.64 140.87 L172.42 140.74 L173.21 140.61 L174.00 140.48 L174.79 140.34 L175.59 140.21 L176.39 140.08 L177.20 139.95 L178.00 139.81 L178.82 139.68 L179.63 139.55 L180.45 139.41 L181.28 139.28 L182.10 139.14 L182.94 139.01 L183.77 138.87 L184.61 138.73 L185.46 138.60 L186.30 138.46 L187.15 138.33 L188.01 138.19 L188.87 138.05 L189.73 137.92 L190.60 137.78 L191.47 137.64 L192.35 137.50 L193.22 137.37 L194.11 137.23 L194.99 137.09 L195.88 136.96 L196.78 136.82 L197.68 136.68 L198.58 136.54 L199.49 136.41 L200.40 136.27 L201.31 136.13 L202.23 135.99 L203.15 135.85 L204.08 135.72 L205.01 135.58 L205.95 135.44 L206.88 135.30 L207.83 135.16 L208.77 135.02 L209.72 134.89 L210.68 134.75 L211.64 134.61 L212.60 134.47 L213.56 134.33 L214.53 134.19 L215.51 134.05 L216.49 133.91 L217.47 133.77 L218.45 133.63 L219.44 133.49 L220.44 133.35 L221.44 133.21 L222.44 133.07 L223.44 132.93 L224.45 132.79 L225.47 132.65 L226.48 132.51 L227.50 132.37 L228.53 132.23 L229.56 132.09 L230.59 131.95 L231.63 131.81 L232.67 131.67 L233.71 131.53 L234.76 131.39 L235.81 131.24 L236.87 131.10 L237.93 130.96 L238.99 130.82 L240.06 130.68 L241.13 130.55 L242.20 130.42 L243.28 130.29 L244.36 130.16 L245.45 130.03 L246.53 129.90 L247.63 129.77 L248.72 129.64 L249.82 129.51 L250.93 129.38 L252.03 129.25 L253.14 129.12 L254.26 128.99 L255.37 128.86 L256.49 128.73 L257.62 128.60 L258.74 128.47 L259.88 128.34 L261.01 128.21 L262.15 128.08 L263.29 127.95 L264.43 127.82 L265.58 127.69 L266.73 127.56 L267.88 127.43 L269.04 127.30 L270.20 127.17 L271.36 127.04 L272.53 126.91 L273.70 126.78 L274.87 126.64 L276.04 126.51 L277.22 126.38 L278.40 126.25 L279.58 126.12 L280.77 125.99 L281.96 125.86 L283.15 125.73 L284.34 125.59 L285.54 125.46 L286.74 125.33 L287.94 125.20 L289.14 125.07 L290.35 124.93 L291.56 124.80 L292.77 124.67 L293.99 124.54 L295.20 124.41 L296.42 124.27 L297.64 124.14 L298.86 124.01 L300.09 123.88 L301.31 123.74 L302.54 123.61 L303.77 123.48 L305.01 123.35 L306.24 123.21 L307.48 123.08 L308.71 122.95 L309.95 122.81 L311.19 122.68 L312.44 122.55 L313.68 122.41 L314.92 122.28 L316.17 122.15 L317.42 122.01 L318.67 121.88 L319.92 121.75 L321.17 121.61 L322.42 121.48 L323.67 121.34 L324.93 121.21 L326.18 121.08 L327.44 120.94 L328.70 120.81 L329.95 120.67 L331.21 120.54 L332.47 120.40 L333.73 120.27 L334.99 120.14 L336.24 120.00 L337.50 119.87 L338.76 119.73 L340.02 119.60 L341.28 119.46 L342.54 119.33 L343.80 119.19 L345.06 119.06 L346.32 118.92 L347.58 118.78 L348.84 118.65 L350.09 118.51 L351.35 118.38 L352.61 118.24 L353.86 118.11 L355.11 117.97 L356.37 117.83 L357.62 117.70 L358.87 117.56 L360.12 117.43 L361.37 117.29 L362.62 117.15 L363.86 117.02 L365.11 116.88 L366.35 116.74 L367.59 116.61 L368.83 116.47 L370.07 116.33 L371.30 116.20 L372.54 116.06 L373.77 115.92 L375.00 115.78 L376.22 115.65 L377.45 115.51 L378.67 115.37 L379.89 115.23 L381.11 115.10 L382.32 114.96 L383.53 114.82 L384.74 114.68 L385.95 114.54 L387.15 114.40 L388.35 114.27 L389.54 114.13 L390.74 113.99 L391.92 113.85 L393.11 113.71 L394.29 113.57 L395.47 113.43 L396.64 113.30 L397.81 113.16 L398.98 113.02 L400.14 112.88 L401.30 112.74 L402.46 112.60 L403.61 112.46 L404.75 112.32 L405.89 112.18 L407.03 112.04 L408.16 111.90 L409.29 111.76 L410.41 111.62 L411.53 111.48 L412.64 111.34 L413.75 111.20 L414.85 111.06 L415.95 110.92 L417.04 110.78 L418.13 110.64 L419.21 110.49 L420.29 110.35 L421.36 110.21 L422.42 110.07 L423.48 109.93 L424.53 109.79 L425.58 109.65 L426.62 109.50 L427.66 109.36 L428.69 109.22 L429.71 109.08 L430.73 108.94 L431.74 108.79 L432.74 108.65 L433.74 108.51 L434.73 108.37 L435.72 108.22 L436.70 108.08 L437.67 107.94 L438.64 107.80 L439.59 107.65 L440.55 107.51 L441.49 107.37 L442.43 107.22 L443.36 107.08 L444.28 106.94 L445.20 106.79 L446.11 106.65 L447.01 106.50 L447.91 106.36 L448.80 106.22 L449.68 106.07 L450.55 105.93 L451.42 105.78 L452.28 105.64 L453.13 105.49 L453.97 105.35 L454.81 105.20 L455.64 105.06 L456.46 104.91 L457.27 104.77 L458.08 104.62 L458.88 104.48 L459.67 104.33 L460.45 104.18 L461.23 104.04 L462.00 103.89 L462.76 103.75 L463.51 103.60 L464.25 103.45 L464.99 103.31 L465.72 103.16 L466.44 103.01 L467.16 102.87 L467.86 102.72 L468.56 102.57 L469.25 102.42 L469.93 102.28 L470.61 102.13 L471.27 101.98 L471.93 101.83 L472.58 101.69 L473.23 101.54 L473.86 101.39 L474.49 101.24 L475.11 101.09 L475.72 100.94 L476.33 100.80 L476.92 100.65 L477.51 100.50 L478.10 100.35 L478.67 100.20 L479.24 100.05 L479.79 99.90 L480.35 99.75 L480.89 99.60 L481.43 99.45 L481.95 99.30 L482.47 99.15 L482.99 99.00 L483.49 98.85 L483.99 98.70 L484.48 98.55 L484.97 98.40 L485.45 98.25 L485.92 98.10 L486.38 97.95 L486.83 97.80 L487.28 97.64 L487.72 97.49 L488.16 97.34 L488.58 97.19 L489.00 97.04 L489.42 96.88 L489.83 96.73 L490.23 96.58 L490.63 96.43 L491.03 96.28 L491.42 96.12 L491.80 95.97 L492.17 95.82 L492.54 95.66 L492.91 95.51 L493.26 95.36 L493.61 95.20 L493.95 95.05 L494.29 94.89 L494.62 94.74 L494.95 94.59 L495.26 94.43 L495.58 94.28 L495.88 94.12 L496.18 93.97 L496.48 93.81 L496.77 93.66 L497.05 93.50 L497.33 93.35 L497.60 93.19 L497.87 93.04 L498.13 92.88 L498.38 92.72 L498.63 92.57 L498.88 92.41 L499.12 92.26 L499.35 92.10 L499.58 91.94 L499.81 91.79 L500.03 91.63 L500.24 91.47 L500.45 91.31 L500.66 91.16 L500.86 91.00 L501.05 90.84 L501.43 90.53 L501.80 90.21 L502.14 89.89 L502.47 89.57 L502.78 89.25 L503.08 88.94 L503.36 88.62 L503.63 88.30 L503.89 87.97 L504.13 87.65 L504.36 87.33 L504.57 87.01 L504.78 86.68 L504.97 86.36 L505.16 86.03 L505.33 85.71 L505.49 85.38 L505.64 85.06 L505.79 84.73 L505.92 84.40 L506.05 84.07 L506.17 83.74 L506.28 83.41 L506.39 83.08 L506.49 82.75 L506.58 82.41 L506.66 82.08 L506.75 81.75 L506.82 81.41 L506.89 81.08 L506.95 80.74 L507.01 80.40 L507.07 80.07 L507.12 79.73 L507.17 79.39 L507.21 79.05 L507.26 78.71 L507.29 78.37 L507.33 78.03 L507.36 77.68 L507.39 77.34 L507.42 77.00 L507.44 76.65 L507.47 76.31 L507.49 75.96 L507.51 75.61 L507.53 75.26 L507.54 74.91 L507.56 74.56 L507.57 74.21 L507.58 73.86 L507.59 73.51 L507.60 73.16 L507.61 72.80 L507.62 72.45 L507.63 72.09 L507.63 71.74 L507.64 71.38 L507.65 71.02 L507.65 70.66 L507.66 70.31 L507.66 69.95 L507.66 69.58 L507.67 69.22 L507.67 68.86 L507.67 68.50 L507.67 68.13 L507.68 67.77 L507.68 67.40 L507.68 67.03 L507.68 66.66 L507.68 66.30 L507.68 65.93 L507.68 65.56 L507.68 65.18 L507.69 64.81 L507.69 64.44 L507.69 64.06 L507.69 63.69 L507.69 63.31 L507.69 62.94 L507.69 62.56 L507.69 62.18 L507.69 61.80 L507.69 61.42 L507.69 61.04 L507.69 60.65 L507.69 60.27 L507.69 59.89 L507.69 59.50 L507.69 59.11 L507.69 58.73 L507.69 58.34 L507.69 57.95 L507.69 57.56 L507.69 57.17 L507.69 56.78 L507.69 56.38 L507.69 55.99 L507.69 55.59 L507.69 55.20 L507.69 55.00" fill="none" stroke="#000" stroke-opacity="0.7" stroke-width="0.85" stroke-dasharray="1.15 1.15"/>
<path d="M36.04 261.78 L36.09 261.51 L36.15 261.24 L36.20 260.97 L36.26 260.69 L36.32 260.42 L36.37 260.15 L36.43 259.88 L36.49 259.60 L36.55 259.33 L36.61 259.05 L36.67 258.78 L36.73 258.50 L36.80 258.23 L36.86 257.95 L36.92 257.67 L36.99 257.40 L37.06 257.12 L37.12 256.84 L37.19 256.56 L37.26 256.29 L37.33 256.01 L37.40 255.73 L37.47 255.45 L37.54 255.17 L37.61 254.89 L37.68 254.61 L37.76 254.33 L37.83 254.05 L37.91 253.77 L37.99 253.49 L38.06 253.21 L38.14 252.93 L38.22 252.65 L38.30 252.37 L38.38 252.09 L38.46 251.81 L38.55 251.52 L38.63 251.24 L38.72 250.96 L38.80 250.68 L38.89 250.40 L38.98 250.12 L39.07 249.84 L39.16 249.56 L39.25 249.27 L39.34 248.99 L39.44 248.71 L39.53 248.43 L39.63 248.15 L39.72 247.87 L39.82 247.59 L39.92 247.31 L40.02 247.03 L40.12 246.75 L40.23 246.48 L40.33 246.21 L40.44 245.93 L40.54 245.66 L40.65 245.39 L40.76 245.11 L40.87 244.84 L40.98 244.57 L41.09 244.30 L41.21 244.02 L41.32 243.75 L41.44 243.48 L41.56 243.21 L41.68 242.94 L41.80 242.67 L41.92 242.40 L42.04 242.13 L42.17 241.86 L42.30 241.59 L42.43 241.33 L42.56 241.06 L42.69 240.79 L42.82 240.53 L42.95 240.26 L43.09 239.99 L43.23 239.73 L43.37 239.46 L43.51 239.20 L43.65 238.93 L43.79 238.67 L43.94 238.41 L44.09 238.15 L44.24 237.88 L44.39 237.62 L44.54 237.36 L44.69 237.09 L44.85 236.81 L45.01 236.54 L45.17 236.27 L45.33 236.00 L45.49 235.73 L45.66 235.46 L45.83 235.19 L46.00 234.92 L46.17 234.65 L46.34 234.38 L46.51 234.12 L46.69 233.85 L46.87 233.58 L47.05 233.32 L47.24 233.05 L47.42 232.78 L47.61 232.52 L47.80 232.26 L47.99 231.99 L48.19 231.73 L48.38 231.47 L48.58 231.20 L48.78 230.94 L48.98 230.68 L49.19 230.42 L49.40 230.16 L49.61 229.90 L49.82 229.64 L50.03 229.38 L50.25 229.12 L50.47 228.87 L50.69 228.61 L50.92 228.35 L51.15 228.10 L51.38 227.84 L51.61 227.59 L51.84 227.33 L52.08 227.08 L52.32 226.83 L52.57 226.58 L52.81 226.32 L53.06 226.07 L53.31 225.82 L53.56 225.57 L53.82 225.32 L54.08 225.07 L54.34 224.82 L54.61 224.57 L54.88 224.32 L55.15 224.07 L55.42 223.81 L55.70 223.57 L55.98 223.32 L56.26 223.07 L56.55 222.82 L56.84 222.57 L57.13 222.32 L57.43 222.08 L57.73 221.83 L58.03 221.59 L58.33 221.34 L58.64 221.10 L58.95 220.85 L59.27 220.61 L59.59 220.37 L59.91 220.12 L60.23 219.88 L60.56 219.64 L60.90 219.40 L61.23 219.16 L61.57 218.92 L61.91 218.68 L62.26 218.44 L62.61 218.20 L62.96 217.97 L63.32 217.73 L63.68 217.49 L64.04 217.26 L64.41 217.02 L64.78 216.78 L65.16 216.55 L65.53 216.31 L65.92 216.08 L66.30 215.85 L66.69 215.61 L67.09 215.38 L67.48 215.15 L67.89 214.92 L68.29 214.69 L68.70 214.46 L69.11 214.23 L69.53 213.99 L69.95 213.77 L70.38 213.52 L70.80 213.28 L71.24 213.03 L71.67 212.79 L71.89 212.67 L72.11 212.54 L72.34 212.42 L72.56 212.30 L72.78 212.18 L73.01 212.06 L73.23 211.93 L73.46 211.81 L73.69 211.69 L73.92 211.57 L74.15 211.45 L74.38 211.33 L74.61 211.20 L74.84 211.08 L75.07 210.96 L75.31 210.83 L75.54 210.71 L75.78 210.58 L76.02 210.46 L76.26 210.33 L76.50 210.20 L76.74 210.08 L76.98 209.95 L77.22 209.83 L77.46 209.70 L77.71 209.57 L77.95 209.45 L78.20 209.32 L78.45 209.20 L78.70 209.07 L78.95 208.95 L79.20 208.82 L79.45 208.69 L79.70 208.57 L79.95 208.44 L80.21 208.32 L80.46 208.19 L80.72 208.06 L80.98 207.94 L81.24 207.81 L81.49 207.69 L81.75 207.56 L82.02 207.44 L82.28 207.31 L82.54 207.18 L82.80 207.06 L83.07 206.93 L83.34 206.81 L83.60 206.68 L83.87 206.56 L84.14 206.43 L84.41 206.30 L84.68 206.18 L84.95 206.05 L85.22 205.93 L85.49 205.80 L85.77 205.67 L86.04 205.55 L86.32 205.42 L86.60 205.30 L86.87 205.17 L87.15 205.04 L87.43 204.92 L87.71 204.79 L87.99 204.66 L88.27 204.54 L88.56 204.41 L88.84 204.29 L89.12 204.16 L89.41 204.03 L89.70 203.91 L89.98 203.78 L90.27 203.65 L90.56 203.53 L90.85 203.40 L91.14 203.27 L91.43 203.15 L91.72 203.02 L92.01 202.89 L92.30 202.77 L92.60 202.64 L92.89 202.51 L93.19 202.39 L93.48 202.26 L93.78 202.13 L94.08 202.01 L94.37 201.88 L94.67 201.75 L94.97 201.62 L95.27 201.50 L95.57 201.37 L95.87 201.25 L96.18 201.12 L96.48 201.00 L96.78 200.87 L97.08 200.74 L97.39 200.62 L97.69 200.49 L98.00 200.37 L98.30 200.24 L98.61 200.12 L98.92 199.99 L99.22 199.86 L99.53 199.74 L99.84 199.61 L100.15 199.48 L100.46 199.36 L100.77 199.23 L101.08 199.10 L101.39 198.98 L101.70 198.85 L102.01 198.72 L102.32 198.60 L102.63 198.47 L102.94 198.34 L103.25 198.21 L103.57 198.09 L103.88 197.96 L104.19 197.83 L104.51 197.70 L104.82 197.58 L105.13 197.45 L105.45 197.32 L105.76 197.19 L106.08 197.06 L106.39 196.93 L106.70 196.81 L107.02 196.68 L107.33 196.55 L107.65 196.42 L107.96 196.29 L108.28 196.16 L108.59 196.03 L108.91 195.90 L109.22 195.77 L109.54 195.64 L109.85 195.51 L110.17 195.38 L110.48 195.24 L110.80 195.09 L111.11 194.95 L111.42 194.81 L111.74 194.67 L112.05 194.53 L112.37 194.38 L112.68 194.24 L112.99 194.10 L113.31 193.96 L113.62 193.81 L113.93 193.67 L114.24 193.53 L114.55 193.38 L114.86 193.24 L115.18 193.10 L115.49 192.95 L115.80 192.81 L116.10 192.66 L116.41 192.52 L116.72 192.37 L117.03 192.23 L117.34 192.09 L117.64 191.94 L117.95 191.80 L118.26 191.65 L118.56 191.50 L118.86 191.36 L119.17 191.21 L119.47 191.07 L119.77 190.92 L120.07 190.78 L120.37 190.63 L120.67 190.49 L120.97 190.34 L121.27 190.20 L121.57 190.05 L121.86 189.91 L122.16 189.76 L122.45 189.61 L122.75 189.47 L123.04 189.32 L123.33 189.18 L123.62 189.03 L123.91 188.88 L124.20 188.74 L124.49 188.59 L124.78 188.44 L125.06 188.29 L125.35 188.15 L125.63 188.00 L125.91 187.85 L126.19 187.70 L126.47 187.55 L126.75 187.40 L127.03 187.26 L127.30 187.11 L127.58 186.96 L127.85 186.81 L128.12 186.66 L128.39 186.51 L128.66 186.36 L128.93 186.21 L129.19 186.06 L129.46 185.90 L129.72 185.75 L129.98 185.59 L130.24 185.44 L130.50 185.29 L130.76 185.13 L131.02 184.98 L131.27 184.82 L131.52 184.67 L131.77 184.51 L132.02 184.35 L132.27 184.20 L132.52 184.04 L132.76 183.89 L133.00 183.73 L133.25 183.57 L133.49 183.42 L133.72 183.26 L133.96 183.10 L134.19 182.94 L134.43 182.79 L134.66 182.63 L134.89 182.47 L135.12 182.31 L135.34 182.15 L135.56 181.99 L135.79 181.83 L136.01 181.67 L136.23 181.51 L136.44 181.35 L136.66 181.19 L136.87 181.03 L137.08 180.87 L137.29 180.71 L137.50 180.55 L137.70 180.39 L137.91 180.23 L138.11 180.07 L138.31 179.92 L138.70 179.62 L139.09 179.31 L139.47 179.00 L139.84 178.70 L140.20 178.39 L140.55 178.07 L140.90 177.76 L141.24 177.45 L141.57 177.13 L141.89 176.81 L142.21 176.49 L142.52 176.17 L142.82 175.85 L143.11 175.52 L143.40 175.19 L143.67 174.87 L143.94 174.53 L144.21 174.20 L144.46 173.87 L144.71 173.53 L144.95 173.19 L145.18 172.85 L145.41 172.51 L145.63 172.16 L145.84 171.82 L146.04 171.47 L146.24 171.12 L146.43 170.77 L146.62 170.41 L146.80 170.05 L146.97 169.69 L147.14 169.33 L147.30 168.97 L147.45 168.60 L147.60 168.23 L147.74 167.86 L147.88 167.49 L148.01 167.11 L148.14 166.73 L148.26 166.35 L148.37 165.97 L148.48 165.58 L148.59 165.20 L148.69 164.81 L148.79 164.41 L148.88 164.02 L148.97 163.62 L149.05 163.22 L149.13 162.81 L149.21 162.41 L149.28 162.00 L149.35 161.58 L149.42 161.17 L149.48 160.75 L149.54 160.33 L149.60 159.91 L149.65 159.48 L149.70 159.05 L149.75 158.62 L149.79 158.18 L149.83 157.74 L149.87 157.30 L149.91 156.86 L149.95 156.41 L149.98 155.96 L150.01 155.50 L150.04 155.05 L150.07 154.59 L150.09 154.12 L150.12 153.65 L150.14 153.18 L150.16 152.71 L150.18 152.23 L150.20 151.75 L150.21 151.27 L150.23 150.78 L150.25 150.29 L150.26 149.79 L150.27 149.30 L150.28 149.04 L150.28 148.79 L150.29 148.54 L150.29 148.29 L150.30 148.03 L150.30 147.78 L150.31 147.52 L150.31 147.26 L150.32 147.01 L150.32 146.75 L150.33 146.49 L150.33 146.23 L150.33 145.97 L150.34 145.70 L150.34 145.44 L150.34 145.17 L150.35 144.91 L150.35 144.64 L150.35 144.37 L150.36 144.11 L150.36 143.84 L150.36 143.57 L150.36 143.29 L150.37 143.02 L150.37 142.75 L150.37 142.47 L150.37 142.20 L150.37 141.92 L150.38 141.64 L150.38 141.37 L150.38 141.09 L150.38 140.81 L150.38 140.52 L150.38 140.24 L150.38 139.96 L150.39 139.67 L150.39 139.39 L150.39 139.10 L150.39 138.81 L150.39 138.52 L150.39 138.23 L150.39 137.94 L150.39 137.65 L150.39 137.36 L150.40 137.06 L150.40 136.77 L150.40 136.47 L150.40 136.17 L150.40 135.87 L150.40 135.57 L150.40 135.27 L150.40 134.97 L150.40 134.67 L150.40 134.36 L150.40 134.06 L150.40 133.75 L150.40 133.44 L150.40 133.13 L150.40 132.82 L150.40 132.51 L150.40 132.40" fill="none" stroke="#000" stroke-width="1.65"/>
</svg>
<div class="t" style="left:269.75px;top:1.18px;font-size:17.7px;transform:translateX(-50%);">Energy spectrum</div>
<div class="t" style="left:22.3px;top:23.60px;font-size:14.8px;">Hz</div>
<div class="t" style="left:530.9px;top:340.79px;font-size:14.7px;">energy/eg</div>
<div class="t" style="left:150.31px;top:354.84px;font-size:15px;transform:translateX(-50%);">200</div>
<div class="t" style="left:269.27px;top:354.84px;font-size:15px;transform:translateX(-50%);">400</div>
<div class="t" style="left:388.22999999999996px;top:354.84px;font-size:15px;transform:translateX(-50%);">600</div>
<div class="t" style="left:507.18999999999994px;top:354.84px;font-size:15px;transform:translateX(-50%);">800</div>
<div class="t" style="right:564.0px;top:288.61px;font-size:14.8px;">10<sup style="font-size:10px;top:-6px;margin-left:0.6px">10</sup></div>
<div class="t" style="right:564.0px;top:225.60px;font-size:14.8px;">10<sup style="font-size:10px;top:-6px;margin-left:0.6px">11</sup></div>
<div class="t" style="right:564.0px;top:162.60px;font-size:14.8px;">10<sup style="font-size:10px;top:-6px;margin-left:0.6px">12</sup></div>
<div class="t" style="right:564.0px;top:99.61px;font-size:14.8px;">10<sup style="font-size:10px;top:-6px;margin-left:0.6px">13</sup></div>
</body></html>
